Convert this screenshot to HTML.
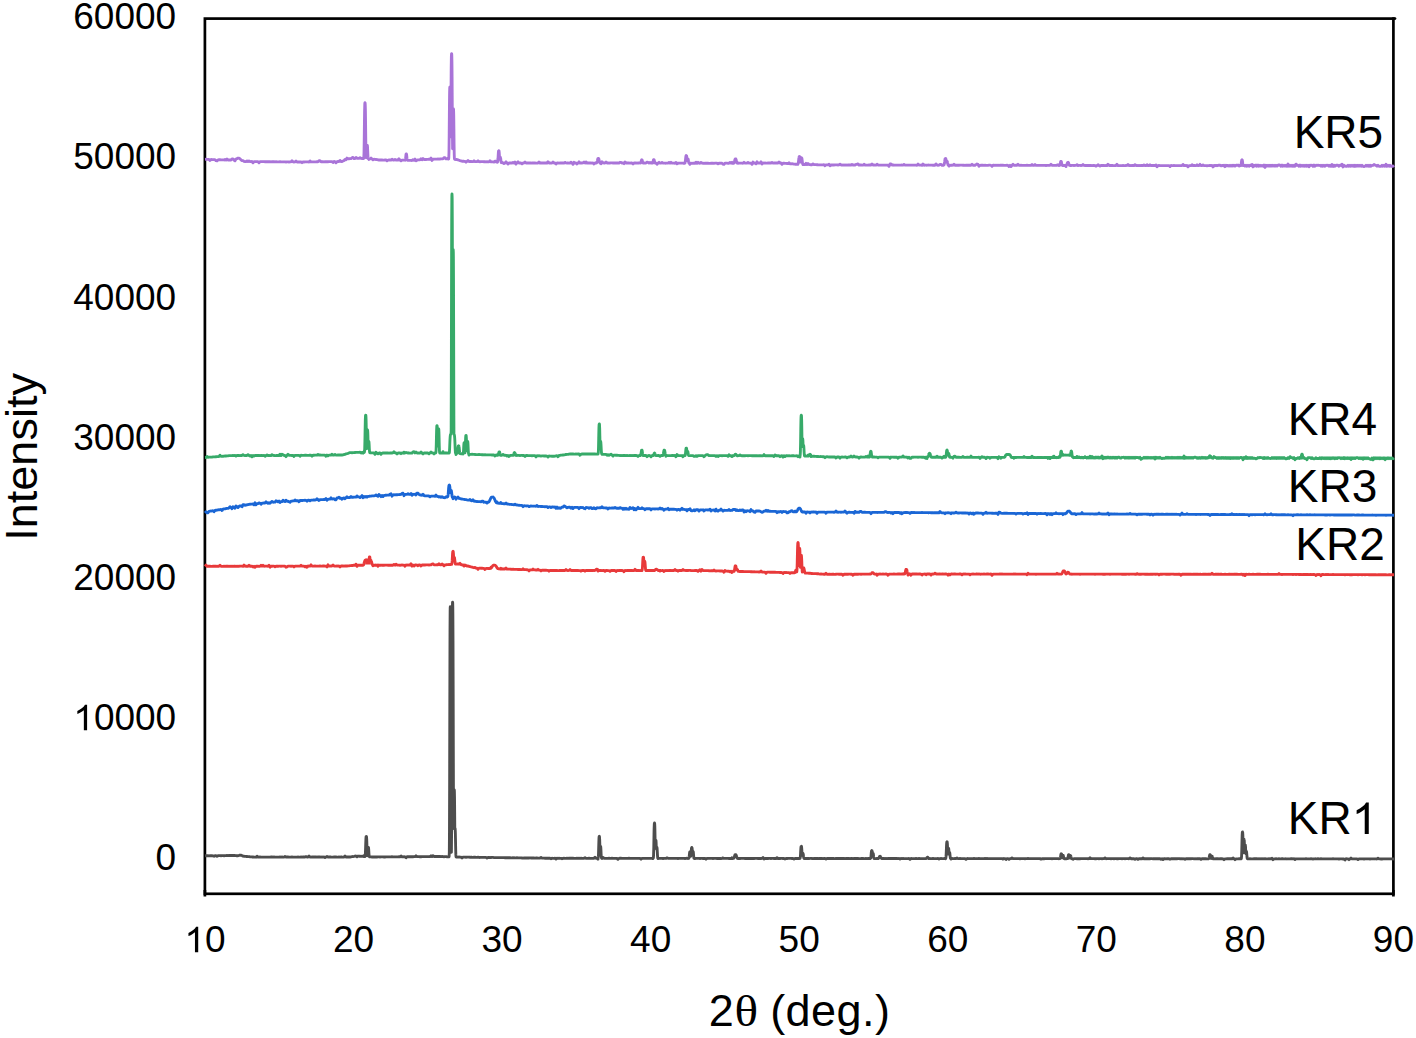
<!DOCTYPE html>
<html><head><meta charset="utf-8"><title>XRD</title>
<style>
html,body{margin:0;padding:0;background:#fff;width:1416px;height:1038px;overflow:hidden}
svg{display:block}
text{font-family:"Liberation Sans",sans-serif;fill:#000}
</style></head><body>
<svg width="1416" height="1038" viewBox="0 0 1416 1038">
<rect x="0" y="0" width="1416" height="1038" fill="#fff"/>
<defs><path id="one" d="M763 0L583 0L583 1147Q518 1085 415 1024.5Q312 964 223 931L223 1105Q375 1176 486.5 1275Q598 1374 646 1466L763 1466Z"/></defs>

<text x="176.2" y="29.0" font-size="37" text-anchor="end">60000</text>
<text x="176.2" y="169.2" font-size="37" text-anchor="end">50000</text>
<text x="176.2" y="309.5" font-size="37" text-anchor="end">40000</text>
<text x="176.2" y="449.7" font-size="37" text-anchor="end">30000</text>
<text x="176.2" y="589.9" font-size="37" text-anchor="end">20000</text>
<text x="176.2" y="730.1" font-size="37" text-anchor="end">0000</text>
<use href="#one" transform="translate(73.31,730.15) scale(0.01807,-0.01736)"/>
<text x="176.2" y="870.4" font-size="37" text-anchor="end">0</text>
<use href="#one" transform="translate(184.42,952.20) scale(0.01807,-0.01736)"/>
<text x="205.00" y="952.2" font-size="37">0</text>
<text x="353.6" y="952.2" font-size="37" text-anchor="middle">20</text>
<text x="502.1" y="952.2" font-size="37" text-anchor="middle">30</text>
<text x="650.7" y="952.2" font-size="37" text-anchor="middle">40</text>
<text x="799.2" y="952.2" font-size="37" text-anchor="middle">50</text>
<text x="947.8" y="952.2" font-size="37" text-anchor="middle">60</text>
<text x="1096.3" y="952.2" font-size="37" text-anchor="middle">70</text>
<text x="1244.9" y="952.2" font-size="37" text-anchor="middle">80</text>
<text x="1393.4" y="952.2" font-size="37" text-anchor="middle">90</text>
<text transform="translate(36.6,536.6) rotate(-90)" x="-4.1" y="0" font-size="45">Intensity</text>
<text x="708.7" y="1025.6" font-size="45">2</text>
<text x="0" y="1025.6" font-size="44" style="font-family:'Liberation Serif',serif" transform="translate(734.6,0) scale(1.12,1)">&#952;</text>
<text x="770.2" y="1025.6" font-size="45" letter-spacing="0.45">(deg.)</text>
<rect x="204.9" y="18.6" width="1188.5" height="875.2" fill="none" stroke="#000" stroke-width="2.7"/>
<line x1="204.9" y1="890" x2="204.9" y2="896.5" stroke="#000" stroke-width="2.7"/>
<line x1="1393.4" y1="890" x2="1393.4" y2="896.5" stroke="#000" stroke-width="2.7"/>
<line x1="1393" y1="18.6" x2="1395" y2="18.6" stroke="#000" stroke-width="2.7" stroke-linecap="round"/>
<path d="M205.00 855.85 206.00 855.72 207.00 855.71 208.00 855.79 209.00 855.85 210.00 855.77 211.00 855.79 212.00 855.73 213.00 855.82 214.00 856.20 215.00 855.66 216.00 855.70 217.00 856.28 218.00 855.72 219.00 855.66 220.00 855.68 221.00 855.73 222.00 855.64 223.00 855.68 224.00 855.75 225.00 855.56 226.00 855.66 227.00 855.50 228.00 855.61 229.00 855.47 230.00 855.50 231.00 855.53 232.00 855.52 233.00 855.49 234.00 855.53 234.50 855.48 234.75 855.46 235.00 855.51 235.25 855.46 235.50 855.56 235.75 855.57 236.00 855.54 236.25 855.58 236.50 855.71 236.75 855.64 237.00 855.67 237.25 855.74 237.50 855.66 237.75 855.71 238.00 855.76 238.25 855.64 238.50 855.56 238.75 855.38 239.00 855.36 239.25 855.29 239.50 855.24 239.75 855.24 240.00 855.14 240.25 855.23 240.50 855.19 240.75 855.23 241.00 855.17 241.25 855.26 241.50 855.40 241.75 855.46 242.00 855.63 242.25 855.77 242.50 855.90 242.75 856.04 243.00 856.13 243.25 856.17 243.50 856.19 243.75 856.31 244.00 856.25 244.25 856.28 244.50 856.31 244.75 856.34 245.00 856.36 245.25 856.43 245.50 856.41 245.75 856.41 246.00 856.41 246.25 856.38 246.50 856.56 247.00 856.50 248.00 856.56 249.00 856.64 250.00 856.75 251.00 856.83 252.00 856.96 253.00 856.99 254.00 857.18 255.00 857.07 256.00 857.20 257.00 856.16 258.00 857.10 259.00 857.19 260.00 856.99 261.00 857.06 262.00 857.12 263.00 857.06 264.00 857.10 265.00 857.07 266.00 857.14 267.00 857.09 268.00 857.08 269.00 857.17 270.00 857.08 271.00 857.04 272.00 857.00 273.00 857.14 274.00 857.03 275.00 857.09 276.00 857.16 277.00 857.11 278.00 857.06 279.00 857.10 280.00 857.03 281.00 857.12 282.00 857.02 283.00 857.11 284.00 857.12 285.00 856.55 286.00 857.09 287.00 857.03 288.00 857.02 289.00 857.11 290.00 857.05 291.00 857.17 292.00 857.02 293.00 857.07 294.00 857.13 295.00 857.06 296.00 857.07 297.00 857.05 298.00 857.03 299.00 857.06 300.00 857.05 301.00 857.03 302.00 857.16 303.00 857.03 304.00 857.03 305.00 857.05 306.00 856.56 307.00 857.00 308.00 857.01 309.00 856.05 310.00 857.07 311.00 857.06 312.00 856.97 313.00 857.02 314.00 857.00 315.00 857.03 316.00 857.01 317.00 857.17 318.00 856.96 319.00 856.94 320.00 857.01 321.00 857.07 322.00 857.01 323.00 857.07 324.00 857.00 325.00 857.64 326.00 857.00 327.00 856.50 328.00 857.04 329.00 856.97 330.00 856.93 331.00 857.02 332.00 857.06 333.00 857.09 334.00 857.01 335.00 857.04 336.00 856.99 337.00 857.12 338.00 857.06 339.00 857.02 340.00 857.09 341.00 856.96 342.00 857.03 343.00 857.06 344.00 856.99 345.00 855.99 346.00 856.97 347.00 857.04 348.00 856.96 349.00 857.00 350.00 857.01 351.00 856.82 352.00 856.66 353.00 856.53 354.00 856.36 355.00 856.11 356.00 856.04 357.00 856.84 358.00 856.05 359.00 856.22 360.00 856.19 361.00 856.31 362.00 856.27 363.00 856.40 363.90 856.48 364.00 855.73 364.10 856.49 364.30 856.55 364.50 856.50 364.70 856.49 364.90 856.58 365.00 856.50 365.10 856.11 365.30 854.59 365.50 850.41 365.70 844.27 365.90 839.06 366.00 837.48 366.10 836.71 366.30 836.44 366.47 836.58 366.50 836.67 366.63 838.05 366.70 839.14 366.80 841.35 366.90 844.24 366.97 846.58 367.00 847.51 367.10 850.42 367.13 851.36 367.30 854.77 367.47 855.71 367.50 855.47 367.63 853.88 367.70 852.82 367.80 850.98 367.90 849.42 367.97 848.56 368.00 848.22 368.10 847.58 368.13 847.54 368.30 847.32 368.47 847.41 368.50 847.51 368.63 848.59 368.70 849.43 368.80 851.08 368.97 854.03 369.00 854.47 369.13 855.87 369.30 856.52 369.47 856.79 369.63 856.83 369.80 856.86 369.97 856.87 370.00 856.86 370.13 856.93 371.00 856.87 372.00 857.00 373.00 857.03 374.00 856.99 375.00 857.01 376.00 856.92 377.00 856.99 378.00 856.91 379.00 856.94 380.00 856.97 381.00 856.93 382.00 856.93 383.00 856.84 384.00 856.97 385.00 856.97 386.00 856.85 387.00 856.84 388.00 856.83 389.00 856.83 390.00 856.82 391.00 856.91 392.00 856.78 393.00 856.82 394.00 856.87 395.00 856.80 396.00 856.82 397.00 856.80 398.00 856.81 399.00 856.76 400.00 856.82 401.00 856.02 402.00 856.72 403.00 856.82 404.00 856.79 405.00 856.86 406.00 857.70 407.00 856.66 408.00 856.73 409.00 856.71 410.00 856.63 411.00 856.72 412.00 856.77 413.00 856.73 414.00 856.66 415.00 856.66 416.00 855.69 417.00 856.58 418.00 856.67 419.00 856.57 420.00 856.72 421.00 856.76 422.00 856.62 423.00 856.56 424.00 856.64 425.00 856.63 426.00 856.60 427.00 856.56 428.00 856.58 429.00 856.60 430.00 856.60 431.00 855.75 432.00 856.58 433.00 855.68 434.00 856.51 435.00 856.51 436.00 856.52 437.00 856.50 438.00 856.49 439.00 856.53 440.00 856.44 441.00 856.55 442.00 856.53 443.00 856.65 444.00 856.71 445.00 856.68 446.00 856.64 447.00 856.77 448.00 856.81 448.30 856.70 448.47 856.80 448.63 856.78 448.80 856.76 448.97 856.78 449.00 856.76 449.13 856.37 449.30 852.25 449.47 831.40 449.63 781.74 449.80 705.05 449.97 640.13 450.00 632.15 450.13 611.53 450.20 607.58 450.30 606.66 450.40 607.58 450.47 611.42 450.60 632.20 450.63 640.09 450.80 705.09 450.97 781.67 451.00 793.32 451.13 831.44 451.20 843.27 451.30 852.36 451.40 852.15 451.47 847.91 451.60 831.75 451.63 826.07 451.80 778.98 451.97 714.08 452.00 702.37 452.13 656.58 452.20 637.18 452.37 609.18 452.40 606.78 452.53 602.29 452.60 602.12 452.70 602.72 452.80 606.75 452.87 613.42 453.00 637.18 453.03 645.01 453.17 690.93 453.20 702.23 453.33 753.43 453.37 768.34 453.40 778.98 453.50 809.79 453.53 817.37 453.60 828.58 453.67 819.83 453.70 816.11 453.80 804.73 453.83 801.91 453.87 798.64 454.00 791.69 454.03 790.90 454.17 789.60 454.20 789.62 454.33 790.29 454.37 790.86 454.40 791.83 454.50 796.45 454.53 798.56 454.60 804.81 454.67 812.48 454.70 816.04 454.80 828.55 454.83 828.81 454.87 828.52 455.00 828.29 455.03 828.20 455.17 828.82 455.20 829.21 455.33 832.13 455.37 833.57 455.50 839.62 455.53 841.16 455.67 848.38 455.70 849.70 455.83 854.06 455.87 854.88 456.00 856.55 456.03 856.70 456.17 856.92 456.33 856.95 456.50 857.05 456.67 857.05 456.83 856.95 457.00 857.04 458.00 857.10 459.00 857.04 460.00 857.11 461.00 857.14 462.00 858.09 463.00 857.09 464.00 857.16 465.00 857.17 466.00 857.25 467.00 857.15 468.00 857.16 469.00 857.20 470.00 857.29 471.00 857.14 472.00 857.25 473.00 857.32 474.00 857.16 475.00 857.26 476.00 857.40 477.00 857.32 478.00 857.24 479.00 857.42 480.00 857.46 481.00 857.31 482.00 857.30 483.00 857.42 484.00 857.37 485.00 857.43 486.00 857.41 487.00 858.03 488.00 857.51 489.00 857.44 490.00 857.66 491.00 857.50 492.00 857.44 493.00 857.45 494.00 857.55 495.00 857.55 496.00 857.55 497.00 857.58 498.00 857.60 499.00 857.65 500.00 857.60 501.00 857.69 502.00 857.68 503.00 857.61 504.00 857.66 505.00 857.73 506.00 857.73 507.00 857.74 508.00 857.75 509.00 857.76 510.00 857.65 511.00 857.80 512.00 857.80 513.00 857.67 514.00 857.79 515.00 857.85 516.00 857.85 517.00 857.78 518.00 857.84 519.00 857.84 520.00 857.93 521.00 857.90 522.00 857.98 523.00 858.06 524.00 857.93 525.00 857.97 526.00 857.94 527.00 857.96 528.00 857.88 529.00 857.97 530.00 857.95 531.00 857.95 532.00 858.00 533.00 858.01 534.00 858.03 535.00 858.05 536.00 858.04 537.00 858.04 538.00 858.11 539.00 858.17 540.00 858.07 541.00 857.47 542.00 858.19 543.00 858.06 544.00 858.16 545.00 858.21 546.00 858.25 547.00 858.24 548.00 858.21 549.00 858.20 550.00 858.29 551.00 858.75 552.00 858.24 553.00 858.30 554.00 858.37 555.00 858.25 556.00 858.97 557.00 858.27 558.00 858.30 559.00 858.29 560.00 858.34 561.00 858.33 562.00 858.80 563.00 858.37 564.00 858.28 565.00 858.30 566.00 858.37 567.00 858.26 568.00 858.38 569.00 858.23 570.00 858.25 571.00 858.27 572.00 858.27 573.00 858.23 574.00 858.38 575.00 858.37 576.00 858.34 577.00 858.26 578.00 858.34 579.00 858.26 580.00 858.31 581.00 858.27 582.00 858.37 583.00 858.37 584.00 858.25 585.00 857.67 586.00 858.35 587.00 858.31 588.00 858.38 589.00 858.24 590.00 858.38 591.00 858.41 592.00 858.38 593.00 858.37 594.00 858.35 595.00 857.32 596.00 858.27 597.00 858.23 597.10 858.29 597.28 858.29 597.47 858.30 597.65 858.32 597.83 858.32 598.00 859.18 598.02 858.31 598.20 857.95 598.38 856.19 598.50 853.74 598.57 851.52 598.67 847.85 598.75 844.97 598.83 842.27 598.93 839.43 599.00 837.91 599.12 836.64 599.17 836.51 599.30 836.35 599.33 836.32 599.48 836.70 599.50 836.77 599.67 839.39 599.83 844.25 599.85 845.00 600.00 850.54 600.03 850.36 600.17 847.78 600.22 847.24 600.33 846.60 600.40 846.38 600.50 846.33 600.58 846.34 600.67 846.48 600.77 847.22 600.83 847.83 600.95 849.91 601.00 851.02 601.13 853.94 601.17 854.76 601.32 857.04 601.33 857.13 601.50 858.13 601.67 858.27 601.83 858.39 602.00 857.63 602.17 858.23 602.33 858.29 603.00 857.40 604.00 858.32 605.00 858.32 606.00 858.37 607.00 858.37 608.00 858.33 609.00 858.26 610.00 858.38 611.00 858.32 612.00 858.27 613.00 858.34 614.00 858.43 615.00 858.30 616.00 858.39 617.00 858.38 618.00 859.36 619.00 858.34 620.00 858.23 621.00 858.27 622.00 858.30 623.00 858.34 624.00 858.37 625.00 858.39 626.00 858.37 627.00 858.31 628.00 858.40 629.00 858.28 630.00 858.34 631.00 858.38 632.00 858.35 633.00 858.41 634.00 858.36 635.00 858.39 636.00 858.38 637.00 858.41 638.00 858.31 639.00 858.34 640.00 858.44 641.00 859.26 642.00 858.40 643.00 858.41 644.00 858.41 645.00 858.33 646.00 858.39 647.00 858.31 648.00 858.44 649.00 858.33 650.00 858.42 651.00 858.38 652.00 858.42 652.30 858.31 652.48 858.33 652.67 858.46 652.85 858.40 653.00 858.44 653.03 858.35 653.22 858.28 653.40 857.70 653.58 855.05 653.77 847.49 653.80 845.70 653.95 837.05 653.97 835.82 654.00 834.15 654.13 828.08 654.30 823.89 654.32 823.70 654.47 823.17 654.50 823.00 654.63 823.33 654.68 823.68 654.80 825.87 654.87 828.12 654.97 832.60 655.00 834.17 655.05 837.07 655.13 841.75 655.23 847.40 655.30 847.24 655.42 843.73 655.47 842.57 655.60 840.73 655.63 840.39 655.78 840.18 655.80 840.20 655.97 840.50 656.00 840.69 656.13 842.57 656.15 843.04 656.30 847.31 656.33 848.17 656.47 848.88 656.52 848.20 656.63 847.48 656.70 847.40 656.80 847.27 656.97 847.46 657.00 847.68 657.13 848.70 657.30 851.61 657.47 855.07 657.63 857.17 657.80 858.19 657.97 858.29 658.00 858.47 658.13 858.38 658.30 858.31 658.47 858.35 658.63 858.31 659.00 858.30 660.00 858.38 661.00 858.37 662.00 858.40 663.00 858.48 664.00 858.35 665.00 858.43 666.00 858.42 667.00 857.87 668.00 858.33 669.00 858.44 670.00 858.37 671.00 858.41 672.00 858.40 673.00 858.42 674.00 858.41 675.00 858.40 676.00 858.43 677.00 858.36 678.00 858.49 679.00 858.43 680.00 858.41 681.00 858.43 682.00 858.43 683.00 858.44 684.00 858.40 685.00 858.46 686.00 858.41 687.00 858.28 687.60 858.46 687.80 858.44 688.00 858.44 688.20 858.40 688.40 858.41 688.60 858.46 688.80 858.26 689.00 857.89 689.20 856.39 689.40 854.39 689.60 852.71 689.80 851.93 690.00 851.79 690.20 851.91 690.40 852.77 690.60 854.38 690.80 856.35 691.00 855.06 691.17 852.46 691.20 851.86 691.33 849.91 691.40 849.02 691.50 848.15 691.60 847.79 691.67 847.67 691.80 847.64 691.83 847.48 692.00 847.74 692.17 848.78 692.20 849.00 692.33 850.70 692.40 851.89 692.50 853.45 692.60 852.93 692.67 852.19 692.80 851.51 692.83 851.43 693.00 851.31 693.17 851.49 693.20 851.50 693.33 852.18 693.40 852.87 693.50 854.06 693.60 855.41 693.67 856.19 693.80 857.45 693.83 857.74 694.00 858.28 694.17 858.41 694.20 858.38 694.33 858.38 694.50 858.37 694.67 858.38 694.83 858.44 695.00 858.48 696.00 858.37 697.00 858.43 698.00 858.31 699.00 858.43 700.00 858.47 701.00 858.38 702.00 858.41 703.00 858.46 704.00 858.49 705.00 858.40 706.00 859.28 707.00 858.40 708.00 858.40 709.00 858.45 710.00 858.37 711.00 858.38 712.00 858.39 713.00 858.46 714.00 858.42 715.00 858.31 716.00 858.42 717.00 858.46 718.00 858.41 719.00 858.47 720.00 858.45 721.00 858.54 722.00 858.36 723.00 857.91 724.00 858.43 725.00 858.42 726.00 858.43 727.00 858.42 728.00 858.41 729.00 858.49 730.00 858.45 731.00 858.53 731.50 858.38 731.75 858.44 732.00 857.84 732.25 858.43 732.50 858.46 732.75 858.46 733.00 858.33 733.25 858.42 733.50 858.37 733.75 858.12 734.00 857.69 734.25 857.01 734.50 856.13 734.75 855.42 735.00 854.80 735.25 854.63 735.50 854.65 735.75 854.63 736.00 854.87 736.25 855.38 736.50 856.06 736.75 856.95 737.00 857.76 737.25 858.25 737.50 858.28 737.75 858.50 738.00 858.47 738.25 858.53 738.50 858.38 738.75 858.39 739.00 858.44 739.25 858.46 739.50 858.44 740.00 858.49 741.00 858.38 742.00 858.42 743.00 858.42 744.00 858.44 745.00 858.51 746.00 858.42 747.00 858.49 748.00 858.52 749.00 858.39 750.00 858.46 751.00 858.50 752.00 858.46 753.00 858.49 754.00 858.51 755.00 858.37 756.00 858.42 757.00 858.41 758.00 858.48 759.00 858.45 760.00 858.46 761.00 858.48 762.00 858.41 763.00 857.44 764.00 858.98 765.00 858.48 766.00 858.47 767.00 858.48 768.00 858.50 769.00 858.42 770.00 858.36 771.00 858.50 772.00 858.41 773.00 858.45 774.00 858.48 775.00 858.54 776.00 858.48 777.00 857.78 778.00 858.50 779.00 858.52 780.00 858.50 781.00 858.38 782.00 858.42 783.00 858.51 784.00 858.47 785.00 858.97 786.00 858.48 787.00 858.48 788.00 858.31 789.00 858.40 790.00 858.42 791.00 858.44 792.00 858.54 793.00 858.50 794.00 859.05 795.00 858.49 796.00 858.44 797.00 858.51 798.00 858.46 798.90 858.37 799.00 858.52 799.10 858.44 799.30 858.42 799.50 858.46 799.70 858.44 799.90 858.39 800.00 858.39 800.10 858.16 800.30 857.30 800.40 856.22 800.50 854.72 800.60 852.91 800.70 851.09 800.80 849.38 800.90 847.91 801.00 846.98 801.10 846.50 801.20 846.31 801.30 846.29 801.40 846.26 801.50 846.55 801.60 847.11 801.70 848.02 801.80 849.27 801.90 851.13 802.00 853.00 802.10 854.75 802.20 855.35 802.30 854.70 802.40 853.86 802.50 853.60 802.60 853.38 802.70 853.47 802.80 853.36 802.90 853.28 803.00 853.35 803.10 853.64 803.20 853.92 803.30 854.52 803.40 855.33 803.50 856.17 803.60 856.93 803.70 857.55 803.80 857.93 804.00 858.35 804.20 858.48 804.40 858.46 804.60 858.44 804.80 858.51 805.00 858.49 805.20 858.47 806.00 858.43 807.00 858.50 808.00 858.51 809.00 858.54 810.00 858.40 811.00 858.45 812.00 858.50 813.00 858.58 814.00 858.50 815.00 858.50 816.00 858.43 817.00 858.50 818.00 858.39 819.00 858.54 820.00 858.51 821.00 858.51 822.00 858.51 823.00 858.58 824.00 858.51 825.00 858.48 826.00 859.06 827.00 858.49 828.00 858.50 829.00 858.49 830.00 858.45 831.00 858.50 832.00 858.47 833.00 858.44 834.00 858.52 835.00 858.56 836.00 858.39 837.00 858.50 838.00 858.46 839.00 858.45 840.00 858.51 841.00 858.51 842.00 858.54 843.00 858.53 844.00 858.40 845.00 858.55 846.00 858.49 847.00 858.48 848.00 858.47 849.00 858.50 850.00 858.55 851.00 858.50 852.00 858.49 853.00 858.58 854.00 858.50 855.00 858.52 856.00 858.53 857.00 858.51 858.00 858.48 859.00 858.56 860.00 858.55 861.00 858.50 862.00 858.37 863.00 858.46 864.00 858.55 865.00 858.64 866.00 858.50 867.00 858.55 868.00 858.52 869.00 858.50 869.40 858.51 869.60 858.55 869.80 858.45 870.00 858.51 870.20 858.55 870.40 858.40 870.60 858.39 870.80 857.72 871.00 856.09 871.17 854.12 871.20 853.69 871.33 852.19 871.40 851.67 871.50 851.08 871.60 850.74 871.67 850.65 871.80 850.57 871.83 850.60 872.00 850.72 872.17 851.45 872.20 851.53 872.33 852.90 872.40 853.70 872.50 854.94 872.60 854.43 872.67 854.00 872.80 853.48 872.83 853.37 873.00 853.25 873.17 853.49 873.20 853.50 873.33 853.92 873.40 854.52 873.50 855.33 873.60 856.26 873.67 856.95 873.80 857.85 873.83 857.93 874.00 858.42 874.17 858.52 874.20 858.60 874.33 858.55 874.50 858.53 874.67 858.55 874.83 858.53 875.00 858.48 876.00 858.55 876.80 858.46 877.00 858.51 877.05 858.48 877.30 858.52 877.55 858.45 877.80 858.54 878.00 858.45 878.05 858.48 878.30 858.60 878.55 858.49 878.80 858.17 879.00 857.72 879.05 857.54 879.30 857.00 879.55 856.48 879.80 856.33 880.00 856.26 880.05 856.26 880.30 856.30 880.55 856.76 880.80 857.18 881.00 857.72 881.05 857.79 881.30 858.26 881.55 858.48 881.80 858.45 882.00 858.49 882.05 858.50 882.30 858.56 882.55 858.55 882.80 858.55 883.00 858.50 883.05 858.49 884.00 858.53 885.00 858.63 886.00 858.54 887.00 858.59 888.00 858.51 889.00 858.46 890.00 858.52 891.00 858.53 892.00 858.54 893.00 858.52 894.00 858.48 895.00 858.49 896.00 858.50 897.00 858.48 898.00 858.57 899.00 858.53 900.00 859.09 901.00 858.52 902.00 858.56 903.00 858.52 904.00 858.59 905.00 858.58 906.00 858.55 907.00 858.58 908.00 858.58 909.00 858.52 910.00 859.38 911.00 858.47 912.00 858.59 913.00 858.63 914.00 858.57 915.00 858.59 916.00 858.52 917.00 858.65 918.00 858.55 919.00 858.49 920.00 858.64 921.00 858.56 922.00 858.64 923.00 858.62 924.00 858.61 925.00 858.61 925.10 858.57 925.30 858.67 925.50 858.56 925.70 858.56 925.90 858.57 926.00 858.58 926.10 858.54 926.30 858.60 926.50 858.39 926.70 858.21 926.90 857.82 927.00 857.57 927.10 857.53 927.30 857.27 927.50 857.33 927.70 857.24 927.90 857.39 928.00 857.60 928.10 857.87 928.30 858.17 928.50 858.51 928.70 858.61 928.90 858.62 929.00 858.59 929.10 858.45 929.30 858.51 929.50 858.48 929.70 858.57 929.90 858.53 930.00 858.58 931.00 858.57 932.00 858.58 933.00 858.44 934.00 858.57 935.00 858.58 936.00 858.64 937.00 858.61 938.00 858.54 939.00 859.10 940.00 858.55 941.00 858.51 942.00 858.56 943.00 858.61 944.00 858.64 944.60 858.46 944.80 858.49 945.00 858.52 945.20 858.72 945.40 858.58 945.60 858.56 945.80 858.28 946.00 856.89 946.20 853.45 946.40 848.44 946.50 846.10 946.60 844.06 946.67 843.17 946.80 842.09 946.83 842.01 947.00 841.72 947.17 841.95 947.20 842.06 947.33 843.16 947.40 844.12 947.50 846.00 947.60 848.34 947.67 850.16 947.80 853.47 947.83 854.13 948.00 852.41 948.17 849.65 948.20 849.39 948.33 848.53 948.40 848.21 948.50 848.26 948.60 848.35 948.67 848.51 948.80 849.38 948.83 849.65 949.00 852.28 949.17 853.18 949.20 852.95 949.33 852.43 949.40 852.32 949.50 852.37 949.67 852.51 949.83 853.14 950.00 854.78 950.17 856.60 950.33 857.92 950.50 858.46 950.67 858.60 950.83 858.61 951.00 859.09 951.17 858.56 951.33 858.64 952.00 858.53 953.00 858.60 954.00 858.57 955.00 858.54 956.00 858.61 957.00 858.00 958.00 858.60 959.00 858.58 960.00 858.53 961.00 858.58 962.00 858.58 963.00 858.59 964.00 858.68 965.00 858.60 966.00 859.40 967.00 858.62 968.00 858.54 969.00 858.67 970.00 858.58 971.00 858.57 972.00 858.65 973.00 858.63 974.00 858.54 975.00 858.64 976.00 858.58 977.00 858.55 978.00 858.65 979.00 858.53 980.00 858.55 981.00 858.59 982.00 858.60 983.00 858.55 984.00 858.55 985.00 858.50 986.00 858.60 987.00 858.54 988.00 858.56 989.00 858.65 990.00 858.68 991.00 858.56 992.00 858.62 993.00 858.61 994.00 858.63 995.00 858.60 996.00 858.59 997.00 858.57 998.00 858.67 999.00 858.64 1000.00 858.57 1001.00 858.56 1002.00 858.60 1003.00 859.11 1004.00 858.55 1005.00 858.61 1006.00 859.59 1007.00 858.57 1008.00 858.70 1009.00 859.39 1010.00 858.63 1011.00 858.68 1012.00 857.85 1013.00 858.65 1014.00 858.60 1015.00 858.68 1016.00 858.62 1017.00 858.62 1018.00 858.58 1019.00 858.57 1020.00 858.73 1021.00 858.63 1022.00 858.60 1023.00 858.58 1024.00 858.63 1025.00 858.72 1026.00 858.63 1027.00 858.61 1028.00 858.54 1029.00 858.60 1030.00 858.69 1031.00 858.64 1032.00 858.65 1033.00 858.66 1034.00 858.62 1035.00 858.64 1036.00 858.65 1037.00 858.67 1038.00 858.69 1039.00 858.58 1040.00 858.63 1041.00 859.16 1042.00 858.67 1043.00 858.71 1044.00 858.73 1045.00 858.57 1046.00 858.67 1047.00 858.60 1048.00 858.63 1049.00 858.58 1050.00 858.66 1051.00 858.67 1052.00 858.72 1053.00 858.68 1054.00 858.68 1055.00 858.65 1056.00 858.68 1057.00 858.68 1058.00 858.58 1058.90 858.59 1059.00 858.63 1059.10 858.75 1059.30 858.58 1059.50 858.67 1059.70 858.64 1059.90 858.67 1060.00 858.59 1060.10 858.54 1060.30 858.20 1060.50 857.16 1060.70 855.77 1060.90 854.44 1061.00 854.11 1061.10 853.89 1061.17 853.77 1061.30 853.84 1061.33 853.83 1061.50 853.87 1061.67 854.31 1061.70 854.49 1061.83 855.21 1061.90 855.70 1062.00 856.44 1062.10 857.26 1062.17 857.59 1062.30 857.76 1062.33 857.61 1062.50 856.72 1062.67 855.75 1062.70 855.63 1062.83 855.34 1062.90 855.25 1063.00 855.40 1063.10 855.19 1063.17 855.38 1063.30 855.58 1063.33 855.74 1063.50 856.63 1063.67 857.59 1063.70 857.80 1063.83 858.25 1064.00 858.57 1064.17 858.66 1064.33 858.74 1064.50 858.71 1064.67 858.65 1064.83 858.55 1065.00 858.76 1066.00 858.64 1066.40 858.62 1066.60 858.71 1066.80 858.65 1067.00 858.69 1067.20 858.59 1067.40 858.66 1067.60 858.63 1067.80 858.32 1068.00 857.47 1068.20 856.25 1068.40 855.14 1068.50 854.93 1068.60 854.72 1068.67 854.61 1068.80 854.59 1068.83 854.67 1069.00 854.74 1069.17 854.98 1069.20 855.10 1069.33 855.86 1069.40 856.13 1069.50 856.78 1069.60 857.46 1069.67 857.74 1069.80 858.03 1069.83 857.82 1070.00 856.93 1070.17 856.27 1070.20 856.15 1070.33 855.82 1070.40 855.92 1070.50 855.78 1070.60 855.82 1070.67 855.80 1070.80 856.03 1070.83 856.23 1071.00 856.91 1071.17 857.74 1071.20 857.97 1071.33 858.38 1071.50 858.58 1071.67 858.68 1071.83 858.74 1072.00 858.65 1072.17 858.69 1072.33 858.65 1073.00 859.32 1074.00 858.65 1075.00 858.69 1076.00 858.64 1077.00 858.76 1078.00 858.67 1079.00 858.75 1080.00 858.72 1081.00 858.65 1082.00 858.69 1083.00 858.63 1084.00 858.60 1085.00 858.70 1086.00 858.64 1087.00 858.70 1088.00 858.71 1089.00 858.68 1090.00 857.68 1091.00 858.68 1092.00 858.70 1093.00 858.67 1094.00 858.62 1095.00 858.75 1096.00 858.73 1097.00 858.67 1098.00 858.65 1099.00 858.75 1100.00 858.69 1101.00 858.65 1102.00 858.72 1103.00 858.60 1104.00 858.67 1105.00 857.88 1106.00 858.73 1107.00 858.70 1108.00 858.63 1109.00 858.68 1110.00 858.68 1111.00 858.73 1112.00 858.65 1113.00 858.63 1114.00 858.75 1115.00 858.68 1116.00 858.67 1117.00 858.74 1118.00 858.71 1119.00 858.68 1120.00 858.67 1121.00 858.69 1122.00 858.74 1123.00 858.65 1124.00 858.68 1125.00 858.72 1126.00 858.67 1127.00 858.65 1128.00 858.60 1129.00 858.76 1130.00 857.91 1131.00 858.80 1132.00 858.70 1133.00 858.76 1134.00 858.71 1135.00 859.33 1136.00 858.69 1137.00 858.70 1138.00 859.45 1139.00 858.72 1140.00 858.74 1141.00 858.65 1142.00 858.71 1143.00 858.02 1144.00 858.75 1145.00 858.68 1146.00 858.76 1147.00 858.69 1148.00 858.78 1149.00 858.70 1150.00 858.72 1151.00 858.68 1152.00 858.66 1153.00 858.79 1154.00 858.72 1155.00 858.71 1156.00 858.70 1157.00 858.73 1158.00 858.75 1159.00 858.72 1160.00 858.69 1161.00 859.31 1162.00 858.78 1163.00 859.50 1164.00 858.75 1165.00 858.78 1166.00 858.80 1167.00 858.71 1168.00 858.67 1169.00 858.75 1170.00 859.22 1171.00 858.79 1172.00 858.75 1173.00 858.73 1174.00 858.72 1175.00 858.76 1176.00 858.65 1177.00 858.72 1178.00 858.67 1179.00 858.69 1180.00 858.74 1181.00 858.88 1182.00 858.70 1183.00 858.81 1184.00 858.79 1185.00 859.35 1186.00 858.70 1187.00 858.71 1188.00 858.70 1189.00 858.72 1190.00 858.72 1191.00 858.73 1192.00 858.64 1193.00 858.67 1194.00 858.81 1195.00 858.74 1196.00 858.86 1197.00 858.74 1198.00 858.75 1199.00 858.77 1200.00 858.73 1201.00 859.43 1202.00 858.70 1203.00 858.71 1204.00 858.72 1205.00 858.79 1206.00 858.78 1207.00 858.82 1207.60 858.84 1207.80 858.81 1208.00 858.70 1208.20 858.74 1208.40 858.83 1208.60 858.78 1208.80 858.67 1209.00 858.31 1209.20 857.53 1209.40 856.27 1209.60 855.21 1209.80 854.64 1210.00 854.62 1210.17 854.70 1210.20 854.77 1210.33 855.02 1210.40 855.15 1210.50 855.74 1210.60 856.23 1210.67 856.67 1210.80 857.48 1210.83 857.75 1211.00 858.36 1211.17 858.45 1211.20 858.47 1211.33 858.00 1211.40 857.75 1211.50 857.34 1211.60 856.76 1211.67 856.55 1211.80 856.46 1211.83 856.34 1212.00 856.35 1212.17 856.38 1212.20 856.32 1212.33 856.66 1212.40 856.92 1212.50 857.24 1212.67 858.03 1212.83 858.47 1213.00 858.67 1213.17 858.81 1213.33 858.90 1213.50 858.70 1213.67 858.74 1213.83 858.72 1214.00 858.79 1215.00 858.83 1216.00 858.74 1217.00 858.75 1218.00 858.78 1219.00 858.83 1220.00 858.76 1221.00 858.78 1222.00 858.76 1223.00 858.82 1224.00 859.68 1225.00 858.83 1226.00 858.82 1227.00 858.79 1228.00 858.78 1229.00 858.73 1230.00 858.77 1231.00 858.67 1232.00 858.83 1233.00 857.95 1234.00 858.82 1235.00 859.74 1236.00 858.88 1237.00 858.81 1238.00 858.82 1239.00 858.77 1240.00 858.79 1240.30 858.78 1240.48 858.80 1240.67 858.82 1240.85 858.78 1241.00 858.75 1241.03 858.85 1241.22 858.76 1241.40 858.23 1241.58 856.22 1241.77 850.39 1241.95 842.50 1242.00 840.25 1242.13 835.58 1242.17 834.56 1242.32 832.31 1242.33 832.24 1242.50 831.87 1242.67 832.29 1242.68 832.30 1242.83 834.56 1242.87 835.65 1243.00 840.28 1243.05 842.36 1243.17 847.94 1243.20 849.19 1243.23 850.33 1243.33 852.93 1243.37 851.51 1243.42 849.80 1243.50 847.08 1243.53 845.95 1243.60 843.75 1243.67 841.93 1243.70 841.24 1243.78 840.11 1243.83 839.64 1243.87 839.52 1243.97 839.30 1244.00 839.25 1244.03 839.30 1244.15 839.56 1244.17 839.74 1244.20 839.94 1244.30 841.30 1244.33 841.94 1244.37 842.86 1244.47 845.85 1244.50 847.07 1244.52 847.59 1244.53 848.01 1244.63 851.67 1244.67 851.30 1244.70 850.56 1244.80 848.27 1244.83 847.65 1244.87 846.94 1244.97 845.81 1245.00 845.61 1245.03 845.35 1245.13 845.04 1245.17 845.06 1245.20 845.12 1245.30 845.02 1245.33 845.24 1245.37 845.40 1245.47 846.09 1245.50 846.51 1245.53 846.93 1245.63 848.81 1245.67 849.67 1245.70 850.51 1245.80 853.12 1245.83 853.76 1245.87 853.36 1245.97 852.29 1246.00 852.09 1246.03 851.89 1246.13 851.53 1246.20 851.32 1246.30 851.25 1246.37 851.32 1246.47 851.47 1246.53 851.72 1246.63 852.27 1246.70 853.06 1246.80 854.28 1246.87 855.19 1246.97 856.58 1247.00 856.99 1247.03 857.26 1247.13 858.02 1247.30 858.68 1247.47 858.76 1247.63 858.87 1247.80 858.78 1247.97 858.73 1248.00 858.86 1248.13 858.82 1249.00 858.87 1250.00 858.77 1251.00 858.80 1252.00 858.86 1253.00 858.86 1254.00 858.79 1255.00 858.78 1256.00 858.79 1257.00 858.79 1258.00 858.81 1259.00 858.77 1260.00 858.80 1261.00 858.78 1262.00 858.84 1263.00 858.78 1264.00 858.80 1265.00 858.68 1266.00 858.80 1267.00 858.82 1268.00 858.82 1269.00 858.77 1270.00 858.88 1271.00 858.76 1272.00 858.30 1273.00 859.65 1274.00 858.85 1275.00 858.84 1276.00 858.78 1277.00 858.91 1278.00 858.90 1279.00 858.79 1280.00 858.83 1281.00 858.92 1282.00 858.76 1283.00 858.79 1284.00 858.92 1285.00 858.81 1286.00 858.79 1287.00 858.95 1288.00 858.85 1289.00 858.84 1290.00 858.87 1291.00 858.76 1292.00 858.74 1293.00 858.82 1294.00 858.79 1295.00 859.46 1296.00 858.82 1297.00 858.85 1298.00 858.89 1299.00 858.88 1300.00 858.92 1301.00 858.80 1302.00 858.80 1303.00 858.87 1304.00 858.81 1305.00 858.83 1306.00 858.73 1307.00 858.84 1308.00 858.83 1309.00 858.87 1310.00 858.81 1311.00 858.78 1312.00 858.87 1313.00 858.99 1314.00 858.92 1315.00 858.79 1316.00 858.82 1317.00 858.94 1318.00 858.77 1319.00 858.87 1320.00 858.89 1321.00 858.76 1322.00 858.85 1323.00 858.88 1324.00 858.84 1325.00 858.86 1326.00 858.88 1327.00 858.87 1328.00 858.86 1329.00 858.82 1330.00 858.85 1331.00 858.88 1332.00 858.82 1333.00 858.79 1334.00 858.85 1335.00 858.84 1336.00 858.87 1337.00 858.84 1338.00 858.81 1339.00 859.00 1340.00 858.83 1341.00 858.92 1342.00 858.85 1343.00 858.97 1344.00 858.91 1345.00 859.89 1346.00 858.77 1347.00 858.87 1348.00 858.88 1349.00 859.71 1350.00 858.91 1351.00 858.04 1352.00 858.79 1353.00 858.86 1354.00 858.87 1355.00 858.89 1356.00 858.94 1357.00 858.84 1358.00 859.62 1359.00 858.87 1360.00 858.82 1361.00 858.89 1362.00 858.90 1363.00 858.86 1364.00 858.97 1365.00 858.81 1366.00 858.84 1367.00 858.86 1368.00 858.89 1369.00 858.92 1370.00 858.96 1371.00 858.92 1372.00 858.94 1373.00 858.91 1374.00 858.83 1375.00 858.95 1376.00 858.92 1377.00 858.96 1378.00 858.24 1379.00 858.91 1380.00 858.87 1381.00 858.96 1382.00 858.97 1383.00 858.83 1384.00 858.84 1385.00 858.87 1386.00 858.85 1387.00 858.87 1388.00 858.85 1389.00 858.91 1390.00 858.84 1391.00 858.85 1392.00 858.85 1393.00 858.94 1394.00 858.96" fill="none" stroke="#4D4D4D" stroke-width="2.85" stroke-linejoin="round" stroke-linecap="butt"/>
<path d="M205.00 566.32 206.00 565.11 207.00 566.29 208.00 566.24 209.00 566.25 210.00 566.24 211.00 566.31 212.00 566.34 213.00 566.26 214.00 566.29 215.00 566.28 216.00 566.20 217.00 566.35 218.00 566.27 219.00 566.28 220.00 565.31 221.00 566.31 222.00 566.36 223.00 566.33 224.00 566.21 225.00 566.38 226.00 566.24 227.00 566.24 228.00 566.20 229.00 566.30 230.00 566.22 231.00 566.32 232.00 566.17 233.00 566.31 234.00 566.20 235.00 566.20 236.00 566.30 237.00 566.22 238.00 566.34 239.00 566.21 240.00 566.17 241.00 566.19 242.00 566.20 243.00 566.28 244.00 565.04 245.00 566.19 246.00 566.21 247.00 566.19 248.00 566.22 249.00 565.24 250.00 566.31 251.00 566.24 252.00 566.17 253.00 567.05 254.00 566.30 255.00 567.31 256.00 566.25 257.00 566.21 258.00 566.22 259.00 566.33 260.00 566.22 261.00 565.34 262.00 566.21 263.00 565.26 264.00 566.21 265.00 566.18 266.00 566.07 267.00 566.18 268.00 566.24 269.00 565.25 270.00 567.17 271.00 566.24 272.00 566.26 273.00 566.15 274.00 566.16 275.00 566.79 276.00 566.21 277.00 566.19 278.00 566.29 279.00 566.08 280.00 566.14 281.00 566.21 282.00 566.13 283.00 566.10 284.00 566.15 285.00 566.13 286.00 567.24 287.00 566.85 288.00 566.07 289.00 566.12 290.00 566.15 291.00 566.22 292.00 566.06 293.00 566.14 294.00 567.01 295.00 566.19 296.00 566.16 297.00 566.17 298.00 566.07 299.00 566.10 300.00 566.11 301.00 565.28 302.00 566.15 303.00 566.10 304.00 566.11 305.00 566.89 306.00 566.15 307.00 567.21 308.00 566.04 309.00 566.12 310.00 566.10 311.00 564.88 312.00 566.09 313.00 566.15 314.00 566.08 315.00 566.02 316.00 566.07 317.00 566.06 318.00 566.12 319.00 566.10 320.00 565.95 321.00 566.06 322.00 566.11 323.00 566.00 324.00 565.95 325.00 566.09 326.00 566.07 327.00 566.93 328.00 564.81 329.00 566.07 330.00 566.07 331.00 566.01 332.00 565.98 333.00 565.05 334.00 566.08 335.00 566.06 336.00 566.07 337.00 565.99 338.00 566.11 339.00 566.02 340.00 566.92 341.00 566.04 342.00 565.99 343.00 565.94 344.00 566.05 345.00 565.88 346.00 566.03 347.00 565.96 348.00 565.88 349.00 565.80 350.00 565.70 351.00 565.62 352.00 565.51 353.00 565.47 353.60 565.30 353.85 565.40 354.00 565.28 354.10 565.31 354.35 565.25 354.60 565.27 354.85 565.29 355.00 565.21 355.10 565.17 355.35 565.20 355.60 565.26 355.85 565.22 356.00 564.26 356.10 565.20 356.35 565.13 356.60 565.21 356.85 565.19 357.00 566.33 357.10 565.20 357.35 565.14 357.60 565.24 357.85 565.22 358.00 565.22 358.10 565.20 358.35 565.21 358.60 565.16 358.85 565.25 359.00 565.23 359.10 565.17 359.35 565.09 359.60 565.17 359.85 565.18 360.00 565.27 360.10 565.13 360.35 565.26 360.60 565.15 360.85 565.24 361.00 565.17 361.10 565.17 361.35 565.20 361.60 565.24 361.85 565.22 362.00 565.16 362.10 565.25 362.35 565.23 362.60 565.17 362.85 565.30 363.00 565.12 363.10 565.10 363.35 565.09 363.60 564.79 363.85 564.03 364.00 563.61 364.10 563.11 364.35 562.13 364.60 561.42 364.85 560.66 365.00 560.56 365.10 560.32 365.35 560.20 365.60 559.97 365.85 559.89 366.00 559.87 366.10 559.97 366.35 560.02 366.60 559.93 366.85 559.88 367.00 559.95 367.10 559.91 367.35 559.96 367.60 559.84 367.77 559.91 367.85 559.99 367.93 559.88 368.00 559.88 368.10 559.92 368.27 559.92 368.35 559.87 368.43 559.92 368.60 559.90 368.77 559.97 368.85 559.90 368.93 559.88 369.00 559.82 369.10 559.94 369.27 557.95 369.35 557.27 369.43 556.83 369.60 556.91 369.77 556.93 369.85 557.28 369.93 557.87 370.00 558.66 370.10 559.97 370.27 559.92 370.35 560.01 370.43 560.02 370.60 560.16 370.77 560.19 370.85 560.26 370.93 560.47 371.00 560.46 371.10 560.67 371.27 561.11 371.35 561.27 371.43 561.46 371.60 561.96 371.85 562.99 372.00 563.59 372.10 563.99 372.35 564.61 372.60 565.07 372.85 565.16 373.00 565.88 373.10 565.23 373.35 565.21 373.60 565.27 373.85 565.12 374.00 565.23 374.10 565.19 374.35 565.18 374.60 565.18 374.85 565.15 375.00 565.22 375.10 565.22 375.35 565.14 375.60 565.21 375.85 565.05 376.00 565.18 376.10 565.13 376.35 565.21 376.60 565.23 376.85 565.14 377.00 565.14 377.10 565.28 377.35 565.23 377.60 565.19 377.85 565.19 378.00 566.25 378.10 565.33 378.35 565.16 378.60 565.19 378.85 565.23 379.00 565.18 379.10 565.31 379.35 565.13 379.60 565.24 379.85 565.26 380.00 565.25 380.10 565.21 380.35 565.24 380.60 565.09 380.85 565.18 381.00 565.17 381.10 565.12 381.35 565.17 381.60 565.25 381.85 565.17 382.00 565.20 382.10 565.19 382.35 565.23 383.00 565.21 384.00 565.27 385.00 565.18 386.00 565.16 387.00 565.20 388.00 565.21 389.00 565.18 390.00 565.24 391.00 565.16 392.00 565.23 393.00 565.24 394.00 564.47 395.00 565.17 396.00 564.14 397.00 565.06 398.00 565.14 399.00 565.10 400.00 565.25 401.00 565.09 402.00 565.02 403.00 565.07 404.00 565.09 405.00 566.16 406.00 565.04 407.00 565.11 408.00 565.02 409.00 565.07 410.00 564.96 411.00 563.79 412.00 566.13 413.00 565.01 414.00 565.98 415.00 564.95 416.00 564.97 417.00 565.06 418.00 565.70 419.00 565.00 420.00 564.91 421.00 565.97 422.00 564.87 423.00 564.99 424.00 564.99 425.00 564.99 426.00 564.92 427.00 564.91 428.00 564.91 429.00 564.98 430.00 564.89 431.00 564.77 432.00 564.06 433.00 563.82 434.00 564.87 435.00 564.93 436.00 564.89 437.00 564.78 438.00 564.89 439.00 563.83 440.00 564.82 441.00 564.79 442.00 564.05 443.00 564.72 444.00 565.83 445.00 564.86 446.00 564.79 447.00 564.68 448.00 564.61 449.00 564.54 450.00 564.40 450.60 564.52 450.80 564.40 451.00 564.44 451.20 564.36 451.40 564.40 451.60 564.39 451.80 564.07 452.00 563.12 452.20 560.41 452.40 556.53 452.60 553.11 452.80 551.50 453.00 551.32 453.20 551.54 453.40 553.15 453.60 556.37 453.80 558.27 454.00 557.50 454.20 557.29 454.40 557.42 454.60 558.31 454.80 559.92 455.00 562.08 455.20 563.37 455.40 564.06 455.60 564.03 455.80 564.13 456.00 564.15 456.20 564.10 456.40 563.98 456.60 564.12 457.00 564.00 458.00 563.94 459.00 564.22 460.00 563.35 461.00 564.58 461.80 564.88 462.00 564.83 462.05 564.80 462.30 564.87 462.55 565.01 462.80 564.95 463.00 565.09 463.05 565.07 463.30 565.06 463.55 565.19 463.80 565.16 464.00 566.13 464.05 565.07 464.30 565.06 464.55 565.04 464.80 565.06 465.00 565.08 465.05 565.22 465.30 565.09 465.55 565.24 465.80 565.39 466.00 565.50 466.05 565.65 466.30 565.65 466.55 565.78 466.80 565.84 467.00 565.97 467.05 565.89 467.30 566.03 467.55 565.96 467.80 566.02 468.00 566.05 468.05 566.09 469.00 566.27 470.00 566.52 471.00 566.89 472.00 567.06 473.00 567.42 474.00 567.73 475.00 567.34 476.00 568.05 477.00 568.12 478.00 569.32 479.00 568.11 480.00 568.18 481.00 568.24 482.00 568.15 483.00 568.30 484.00 568.32 485.00 569.51 486.00 568.38 486.30 568.40 486.55 568.38 486.80 568.42 487.00 568.42 487.05 568.43 487.30 568.45 487.55 568.46 487.80 568.47 488.00 568.38 488.05 568.46 488.30 568.46 488.55 568.48 488.80 568.42 489.00 568.55 489.05 568.47 489.30 568.49 489.55 568.47 489.80 568.57 490.00 568.50 490.05 568.49 490.30 568.44 490.55 568.38 490.80 568.25 491.00 567.14 491.05 568.18 491.30 567.81 491.55 567.62 491.80 567.27 492.00 566.90 492.05 566.83 492.30 566.44 492.55 566.02 492.80 565.75 493.00 565.56 493.05 565.49 493.30 565.24 493.55 565.15 493.80 565.14 494.00 565.17 494.05 565.12 494.30 565.10 494.55 565.08 494.80 565.16 495.00 565.19 495.05 565.25 495.30 565.42 495.55 565.51 495.80 565.82 496.00 566.05 496.05 566.19 496.30 566.55 496.55 567.04 496.80 567.41 497.00 567.78 497.05 567.87 497.30 568.21 497.55 568.38 497.80 568.57 498.00 568.64 498.05 568.67 498.30 568.76 498.55 568.76 498.80 568.78 499.00 568.86 499.05 568.83 499.30 568.88 499.55 568.87 499.80 568.82 500.00 568.91 500.05 568.80 500.30 568.89 500.55 568.85 500.80 568.86 501.00 568.30 501.05 568.88 501.30 568.99 501.55 568.97 501.80 568.91 502.00 568.91 502.05 568.92 502.30 568.80 503.00 569.02 504.00 568.97 505.00 569.12 506.00 568.11 507.00 569.15 508.00 569.15 509.00 569.16 510.00 569.17 511.00 569.24 512.00 569.31 513.00 569.21 514.00 569.37 515.00 569.32 516.00 569.40 517.00 569.45 518.00 569.48 519.00 569.49 520.00 569.51 521.00 569.59 522.00 569.55 523.00 568.76 524.00 569.65 525.00 569.69 526.00 569.69 527.00 569.74 528.00 569.81 529.00 570.88 530.00 569.87 531.00 569.93 532.00 569.95 533.00 569.06 534.00 569.93 535.00 569.86 536.00 570.02 537.00 570.02 538.00 569.32 539.00 570.08 540.00 570.13 541.00 570.93 542.00 570.18 543.00 570.23 544.00 570.23 545.00 570.25 546.00 570.26 547.00 570.40 548.00 570.32 549.00 571.19 550.00 570.44 551.00 570.53 552.00 570.49 553.00 570.50 554.00 570.48 555.00 570.47 556.00 570.51 557.00 570.53 558.00 570.55 559.00 570.54 560.00 570.50 561.00 570.52 562.00 570.48 563.00 570.47 564.00 570.51 565.00 570.50 566.00 569.57 567.00 570.42 568.00 570.60 569.00 570.44 570.00 569.52 571.00 570.53 572.00 570.54 573.00 570.54 574.00 570.52 575.00 570.53 576.00 570.47 577.00 570.51 578.00 570.54 579.00 570.55 580.00 570.61 581.00 571.18 582.00 570.50 583.00 570.50 584.00 570.47 585.00 571.18 586.00 570.44 587.00 570.46 588.00 570.50 589.00 570.47 590.00 570.51 591.00 570.48 592.00 570.46 592.80 570.49 593.00 570.51 593.05 570.46 593.30 570.49 593.55 570.49 593.80 570.42 594.00 570.38 594.05 570.42 594.30 570.45 594.55 570.49 594.80 570.49 595.00 570.44 595.05 570.32 595.30 570.19 595.55 570.09 595.80 569.76 596.00 569.64 596.05 569.50 596.30 569.35 596.55 569.24 596.80 569.31 597.00 569.25 597.05 569.32 597.30 569.35 597.55 569.43 597.80 569.71 598.00 571.06 598.05 569.97 598.30 570.26 598.55 570.50 598.80 570.48 599.00 570.39 599.05 570.46 599.30 570.41 599.55 570.48 599.80 570.45 600.00 570.49 600.05 570.48 600.30 570.52 600.55 570.59 600.80 570.50 601.00 570.47 602.00 570.55 603.00 570.53 604.00 570.53 605.00 571.25 606.00 570.52 607.00 570.51 608.00 570.56 609.00 570.62 610.00 571.39 611.00 570.47 612.00 570.51 613.00 570.48 614.00 570.51 615.00 570.53 616.00 571.48 617.00 570.46 618.00 570.58 619.00 570.47 620.00 570.46 621.00 570.49 622.00 570.49 623.00 570.57 624.00 571.67 625.00 570.48 626.00 570.58 627.00 570.53 628.00 570.48 629.00 570.44 630.00 570.46 631.00 570.49 632.00 570.46 633.00 570.57 634.00 570.51 635.00 569.31 636.00 570.46 637.00 570.46 638.00 570.53 639.00 570.48 640.00 570.58 640.90 570.53 641.00 570.50 641.10 570.52 641.30 570.49 641.50 570.54 641.70 570.48 641.90 570.44 642.00 570.53 642.10 570.19 642.20 569.89 642.30 569.12 642.40 568.00 642.50 566.36 642.60 564.46 642.70 562.35 642.80 560.46 642.90 558.94 643.00 557.89 643.10 557.37 643.20 557.10 643.30 557.16 643.40 557.14 643.50 557.37 643.60 557.89 643.70 558.96 643.80 560.43 643.90 562.44 644.00 564.43 644.10 563.61 644.20 562.64 644.30 561.83 644.40 561.50 644.50 561.33 644.60 561.30 644.70 561.25 644.80 561.43 644.90 561.85 645.00 562.56 645.10 563.64 645.20 564.95 645.30 566.41 645.40 567.67 645.50 568.85 645.60 569.61 645.70 570.10 645.80 570.29 646.00 570.53 646.20 570.47 646.40 570.46 646.60 570.50 646.80 570.55 647.00 570.49 648.00 570.49 649.00 570.53 650.00 570.52 651.00 570.51 652.00 570.45 652.30 570.58 652.55 570.52 652.80 570.49 653.00 570.46 653.05 570.57 653.30 570.48 653.55 570.55 653.80 570.51 654.00 570.45 654.05 570.55 654.30 570.49 654.55 570.47 654.80 570.23 655.00 570.13 655.05 570.08 655.30 569.77 655.55 569.52 655.80 569.35 656.00 569.26 656.05 569.26 656.30 569.27 656.55 569.27 656.80 569.30 657.00 569.49 657.05 569.59 657.30 569.76 657.55 569.94 657.80 570.28 658.00 570.40 658.05 570.36 658.30 570.52 658.55 570.47 658.80 570.56 659.00 570.45 659.05 570.47 659.30 570.51 659.55 570.47 659.80 570.46 660.00 571.14 660.05 570.51 660.30 570.51 661.00 570.55 662.00 570.53 663.00 570.44 664.00 571.49 665.00 570.52 666.00 570.57 667.00 570.54 668.00 570.58 669.00 570.51 670.00 570.49 671.00 570.50 672.00 570.59 673.00 570.48 674.00 570.51 675.00 569.55 676.00 570.54 677.00 570.49 678.00 571.20 679.00 570.49 680.00 570.49 681.00 570.44 682.00 570.56 683.00 569.57 684.00 570.43 685.00 570.38 686.00 570.54 687.00 570.44 688.00 570.50 689.00 570.42 690.00 570.43 691.00 570.54 692.00 570.56 693.00 570.59 694.00 570.55 695.00 570.51 696.00 570.52 697.00 570.54 698.00 571.39 699.00 570.49 700.00 569.75 701.00 571.15 702.00 569.44 703.00 570.60 704.00 570.67 705.00 570.64 706.00 570.68 707.00 570.67 708.00 570.64 709.00 570.71 710.00 570.83 711.00 570.78 712.00 570.72 713.00 570.82 714.00 569.97 715.00 570.86 716.00 570.97 717.00 570.88 718.00 570.93 719.00 570.93 720.00 571.03 721.00 570.97 722.00 571.00 723.00 571.05 724.00 572.25 725.00 570.47 726.00 571.14 727.00 571.10 728.00 571.23 729.00 571.22 730.00 571.86 731.00 571.27 732.00 572.48 732.70 571.33 732.93 571.30 733.00 571.26 733.17 571.30 733.40 571.30 733.63 571.27 733.87 571.31 734.00 571.24 734.10 571.32 734.33 570.84 734.57 569.62 734.60 569.43 734.80 567.93 735.00 566.65 735.03 566.54 735.20 566.00 735.27 565.86 735.40 565.80 735.50 565.79 735.60 565.80 735.73 565.92 735.80 566.00 735.97 566.49 736.00 566.81 736.20 567.99 736.40 569.49 736.43 569.60 736.60 569.50 736.67 569.40 736.80 569.23 736.90 569.21 737.00 569.29 737.13 569.31 737.20 569.33 737.37 569.48 737.40 569.61 737.60 570.06 737.80 570.75 737.83 570.85 738.00 571.13 738.07 571.30 738.20 571.34 738.40 571.31 738.60 571.40 738.80 571.35 739.00 571.44 739.20 571.44 739.40 571.51 740.00 571.41 741.00 571.48 742.00 571.54 743.00 571.50 744.00 571.56 745.00 571.60 746.00 571.55 747.00 571.62 748.00 571.63 749.00 571.62 750.00 571.62 751.00 571.75 752.00 571.73 753.00 571.80 754.00 571.78 755.00 571.86 756.00 571.83 757.00 571.82 758.00 571.94 759.00 572.00 760.00 571.89 761.00 570.93 762.00 572.02 763.00 572.06 764.00 572.08 765.00 572.09 766.00 573.36 767.00 572.08 768.00 572.18 769.00 572.11 770.00 572.26 771.00 572.18 772.00 572.23 773.00 572.28 774.00 572.25 775.00 572.24 776.00 572.38 777.00 572.34 778.00 572.36 779.00 572.36 780.00 572.48 781.00 572.42 782.00 572.57 783.00 573.49 784.00 572.40 785.00 572.60 786.00 572.51 787.00 572.60 788.00 572.61 789.00 572.62 790.00 573.48 791.00 572.68 792.00 572.76 793.00 572.66 793.60 572.75 793.80 572.82 794.00 572.69 794.20 572.75 794.40 572.79 794.60 572.84 794.80 572.74 795.00 572.42 795.20 572.00 795.40 571.30 795.60 570.59 795.80 570.28 796.00 570.25 796.20 570.37 796.40 570.61 796.60 571.21 796.80 571.98 797.00 569.81 797.20 563.56 797.40 554.38 797.60 546.82 797.77 543.46 797.80 543.10 797.93 542.68 798.00 542.56 798.10 542.70 798.20 543.10 798.27 543.95 798.40 546.78 798.43 547.61 798.60 554.44 798.77 562.42 798.80 563.67 798.93 565.53 799.00 562.52 799.10 557.86 799.20 553.80 799.27 551.59 799.40 549.18 799.43 548.74 799.60 548.30 799.77 548.70 799.80 549.11 799.93 551.53 800.00 553.84 800.10 558.02 800.20 562.62 800.27 565.49 800.30 566.68 800.40 567.42 800.43 566.73 800.55 563.51 800.60 562.07 800.77 558.09 800.80 557.53 800.93 555.88 801.00 555.49 801.05 555.25 801.10 555.15 801.20 555.11 801.27 555.18 801.30 555.15 801.40 555.42 801.43 555.57 801.55 556.78 801.60 557.63 801.80 562.13 802.00 567.54 802.05 568.67 802.20 571.26 802.30 571.99 802.40 571.59 802.55 570.77 802.60 570.54 802.80 569.34 803.00 568.48 803.05 568.30 803.20 568.00 803.30 567.94 803.40 567.90 803.55 567.91 803.60 567.95 803.80 567.98 804.00 568.50 804.05 568.70 804.30 569.96 804.55 571.28 804.80 572.46 805.00 572.90 805.05 572.74 805.30 573.01 805.55 573.01 805.80 572.97 806.00 573.05 806.05 573.09 806.30 573.12 806.55 573.13 807.00 573.16 808.00 573.17 809.00 573.28 810.00 573.21 811.00 573.50 812.00 573.53 813.00 573.56 814.00 573.63 815.00 573.65 816.00 573.68 817.00 573.71 818.00 573.73 819.00 573.93 820.00 574.07 821.00 573.94 822.00 574.07 823.00 574.19 824.00 574.27 825.00 574.27 826.00 573.19 827.00 574.34 828.00 574.36 829.00 574.24 830.00 574.29 831.00 574.32 832.00 574.25 833.00 574.18 834.00 574.29 835.00 574.34 836.00 574.21 837.00 574.20 838.00 574.18 839.00 574.26 840.00 574.19 841.00 574.28 842.00 574.24 843.00 575.32 844.00 574.27 845.00 574.24 846.00 574.25 847.00 574.15 848.00 574.25 849.00 574.19 850.00 574.18 851.00 574.26 852.00 574.22 853.00 575.31 854.00 574.25 855.00 574.15 856.00 574.23 857.00 574.22 858.00 574.29 859.00 574.20 860.00 574.15 861.00 574.23 862.00 574.08 863.00 574.16 864.00 574.08 865.00 574.20 866.00 574.11 867.00 574.07 868.00 574.16 868.50 574.14 868.75 574.10 869.00 574.12 869.25 574.13 869.50 574.03 869.75 574.15 870.00 574.17 870.25 574.13 870.50 574.11 870.75 574.05 871.00 573.83 871.25 573.49 871.50 573.29 871.75 572.91 872.00 572.63 872.25 572.58 872.50 572.56 872.75 572.66 873.00 572.73 873.25 572.83 873.50 573.11 873.75 573.51 874.00 573.86 874.25 573.93 874.50 574.05 874.75 574.04 875.00 574.12 875.25 574.08 875.50 574.11 875.75 574.09 876.00 574.11 876.25 574.05 876.50 574.16 877.00 575.30 878.00 574.18 879.00 574.07 880.00 574.01 881.00 574.05 882.00 574.08 883.00 574.04 884.00 574.06 885.00 574.14 886.00 574.01 887.00 574.11 888.00 575.25 889.00 574.06 890.00 574.07 891.00 574.09 892.00 574.08 893.00 574.12 894.00 573.96 895.00 574.05 896.00 574.10 897.00 574.10 898.00 573.92 899.00 573.96 900.00 573.98 901.00 574.06 902.00 573.97 903.00 573.99 903.10 574.04 903.35 573.90 903.60 574.04 903.85 573.98 904.00 574.05 904.10 574.04 904.35 574.05 904.60 573.95 904.85 573.80 905.00 573.48 905.10 573.13 905.35 571.93 905.60 570.59 905.85 569.67 906.00 569.38 906.10 569.33 906.35 569.34 906.60 569.45 906.85 569.98 907.00 570.61 907.10 571.22 907.35 572.54 907.60 573.40 907.85 573.90 908.00 575.16 908.10 574.02 908.35 574.02 908.60 573.92 908.85 574.08 909.00 573.96 909.10 574.03 909.35 573.97 910.00 574.01 911.00 575.22 912.00 573.98 913.00 574.01 914.00 574.00 915.00 574.01 916.00 573.97 917.00 573.99 918.00 574.12 919.00 573.99 920.00 574.02 921.00 574.13 922.00 575.07 923.00 574.05 924.00 574.05 925.00 573.94 926.00 574.71 927.00 574.02 928.00 574.00 929.00 574.02 930.00 574.02 931.00 575.09 932.00 573.95 933.00 574.07 934.00 574.02 935.00 573.13 936.00 574.01 937.00 574.04 938.00 574.08 939.00 573.95 940.00 573.97 941.00 574.08 942.00 574.03 943.00 573.99 944.00 574.09 945.00 574.04 946.00 573.98 947.00 574.06 948.00 575.14 949.00 574.10 950.00 574.83 951.00 574.01 952.00 574.04 953.00 574.12 954.00 573.98 955.00 573.99 956.00 574.13 957.00 574.07 958.00 574.06 959.00 574.03 960.00 573.97 961.00 574.02 962.00 574.83 963.00 573.97 964.00 574.12 965.00 573.94 966.00 574.11 967.00 574.09 968.00 574.08 969.00 574.05 970.00 574.76 971.00 574.09 972.00 574.05 973.00 574.03 974.00 574.11 975.00 574.05 976.00 574.04 977.00 573.98 978.00 574.11 979.00 574.04 980.00 574.06 981.00 574.22 982.00 574.05 983.00 574.07 984.00 574.04 985.00 574.07 986.00 574.15 987.00 574.03 988.00 574.00 989.00 574.13 990.00 574.13 991.00 574.02 992.00 575.33 993.00 574.08 994.00 574.12 995.00 574.12 996.00 574.08 997.00 574.15 998.00 574.12 999.00 574.07 1000.00 574.00 1001.00 574.12 1002.00 574.03 1003.00 574.05 1004.00 574.11 1005.00 574.07 1006.00 574.14 1007.00 574.10 1008.00 574.10 1009.00 574.14 1010.00 574.10 1011.00 574.09 1012.00 574.08 1013.00 574.13 1014.00 574.02 1015.00 574.12 1016.00 574.04 1017.00 574.18 1018.00 574.18 1019.00 574.07 1020.00 574.05 1021.00 574.08 1022.00 574.11 1023.00 574.14 1024.00 574.12 1025.00 574.14 1026.00 574.09 1027.00 574.75 1028.00 573.19 1029.00 574.09 1030.00 574.05 1031.00 574.16 1032.00 574.12 1033.00 574.06 1034.00 574.12 1035.00 574.09 1036.00 574.24 1037.00 574.17 1038.00 574.12 1039.00 574.17 1040.00 574.11 1041.00 574.10 1042.00 574.18 1043.00 574.11 1044.00 574.06 1045.00 574.14 1046.00 574.10 1047.00 574.18 1048.00 574.11 1049.00 574.14 1050.00 574.07 1051.00 574.11 1052.00 574.11 1053.00 574.09 1054.00 574.17 1055.00 574.17 1056.00 574.13 1057.00 573.33 1058.00 574.09 1059.00 574.03 1059.25 574.16 1059.50 574.11 1059.75 574.06 1060.00 574.05 1060.25 574.06 1060.50 574.10 1060.75 574.16 1061.00 574.14 1061.25 574.11 1061.50 574.00 1061.75 573.92 1062.00 573.54 1062.25 573.06 1062.50 572.38 1062.75 571.78 1063.00 571.31 1063.25 570.93 1063.50 570.87 1063.75 570.82 1064.00 570.80 1064.25 570.85 1064.50 571.21 1064.75 571.50 1065.00 572.08 1065.25 572.72 1065.50 573.30 1065.75 573.75 1066.00 573.86 1066.25 574.05 1066.50 573.83 1066.75 573.46 1067.00 573.05 1067.25 572.72 1067.50 572.39 1067.75 572.24 1068.00 572.19 1068.25 572.35 1068.50 572.39 1068.75 572.60 1069.00 573.04 1069.25 573.42 1069.50 573.71 1069.75 573.95 1070.00 574.07 1070.25 574.19 1070.50 574.16 1070.75 574.15 1071.00 574.13 1071.25 574.09 1071.50 574.17 1071.75 574.25 1072.00 574.10 1073.00 574.17 1074.00 574.07 1075.00 574.07 1076.00 574.11 1077.00 574.15 1078.00 574.15 1079.00 574.16 1080.00 574.24 1081.00 574.12 1082.00 574.13 1083.00 574.06 1084.00 574.14 1085.00 574.18 1086.00 574.11 1087.00 574.14 1088.00 574.16 1089.00 574.18 1090.00 574.17 1091.00 574.13 1092.00 574.13 1093.00 574.10 1094.00 574.16 1095.00 574.21 1096.00 574.16 1097.00 574.15 1098.00 574.12 1099.00 574.15 1100.00 574.09 1101.00 574.16 1102.00 574.14 1103.00 574.22 1104.00 574.15 1105.00 574.23 1106.00 574.18 1107.00 574.15 1108.00 574.17 1109.00 574.16 1110.00 574.27 1111.00 574.17 1112.00 574.15 1113.00 574.15 1114.00 574.15 1115.00 574.13 1116.00 574.20 1117.00 574.13 1118.00 574.14 1119.00 574.13 1120.00 574.12 1121.00 574.18 1122.00 574.26 1123.00 574.21 1124.00 574.14 1125.00 574.21 1126.00 574.27 1127.00 574.17 1128.00 574.18 1129.00 574.23 1130.00 574.12 1131.00 574.13 1132.00 574.20 1133.00 574.12 1134.00 574.20 1135.00 574.22 1136.00 574.26 1137.00 573.58 1138.00 574.16 1139.00 574.24 1140.00 574.18 1141.00 574.25 1142.00 574.18 1143.00 574.20 1144.00 574.11 1145.00 574.22 1146.00 574.21 1147.00 574.28 1148.00 574.20 1149.00 574.36 1150.00 574.19 1151.00 574.23 1152.00 574.21 1153.00 574.21 1154.00 574.20 1155.00 574.21 1156.00 574.24 1157.00 574.20 1158.00 574.18 1159.00 574.94 1160.00 574.17 1161.00 574.21 1162.00 574.26 1163.00 574.14 1164.00 574.17 1165.00 574.17 1166.00 574.28 1167.00 574.14 1168.00 574.23 1169.00 574.18 1170.00 574.26 1171.00 574.16 1172.00 574.20 1173.00 574.17 1174.00 574.22 1175.00 574.33 1176.00 574.25 1177.00 574.35 1178.00 574.20 1179.00 574.24 1180.00 574.22 1181.00 575.28 1182.00 574.22 1183.00 574.18 1184.00 574.27 1185.00 574.26 1186.00 574.27 1187.00 574.26 1188.00 574.24 1189.00 574.20 1190.00 574.23 1191.00 574.17 1192.00 574.34 1193.00 574.27 1194.00 574.23 1195.00 574.27 1196.00 574.28 1197.00 574.22 1198.00 574.23 1199.00 574.34 1200.00 574.20 1201.00 574.29 1202.00 574.31 1203.00 574.20 1204.00 574.28 1205.00 574.28 1206.00 574.21 1207.00 574.37 1208.00 574.20 1209.00 574.20 1210.00 574.29 1211.00 574.30 1212.00 573.28 1213.00 574.33 1214.00 574.42 1215.00 574.29 1216.00 574.21 1217.00 574.29 1218.00 574.23 1219.00 574.29 1220.00 574.16 1221.00 574.23 1222.00 574.29 1223.00 574.30 1224.00 574.30 1225.00 574.25 1226.00 574.40 1227.00 574.33 1228.00 574.32 1229.00 574.25 1230.00 574.21 1231.00 574.34 1232.00 574.23 1233.00 574.31 1234.00 574.16 1235.00 574.25 1236.00 574.20 1237.00 574.20 1238.00 574.30 1239.00 574.39 1240.00 574.30 1241.00 574.28 1242.00 574.29 1243.00 574.94 1244.00 574.29 1245.00 575.55 1246.00 574.19 1247.00 574.30 1248.00 574.31 1249.00 574.24 1250.00 574.38 1251.00 574.33 1252.00 574.33 1253.00 574.25 1254.00 574.36 1255.00 574.39 1256.00 574.30 1257.00 574.27 1258.00 574.27 1259.00 574.26 1260.00 574.22 1261.00 574.35 1262.00 574.39 1263.00 574.37 1264.00 574.31 1265.00 574.40 1266.00 574.30 1267.00 574.44 1268.00 574.28 1269.00 574.34 1270.00 574.43 1271.00 574.39 1272.00 574.31 1273.00 574.35 1274.00 574.35 1275.00 574.38 1276.00 574.40 1277.00 574.41 1278.00 574.38 1279.00 573.57 1280.00 574.35 1281.00 574.39 1282.00 574.46 1283.00 574.40 1284.00 574.34 1285.00 574.42 1286.00 574.42 1287.00 574.42 1288.00 574.44 1289.00 574.43 1290.00 574.31 1291.00 574.41 1292.00 574.38 1293.00 574.50 1294.00 574.44 1295.00 574.45 1296.00 574.48 1297.00 574.41 1298.00 574.45 1299.00 574.52 1300.00 574.46 1301.00 574.45 1302.00 574.61 1303.00 574.53 1304.00 574.48 1305.00 574.49 1306.00 574.49 1307.00 574.51 1308.00 574.46 1309.00 574.56 1310.00 574.48 1311.00 574.49 1312.00 574.55 1313.00 574.48 1314.00 574.43 1315.00 574.55 1316.00 575.58 1317.00 574.50 1318.00 574.58 1319.00 574.49 1320.00 574.64 1321.00 575.73 1322.00 574.48 1323.00 574.49 1324.00 574.59 1325.00 574.55 1326.00 574.53 1327.00 574.65 1328.00 574.48 1329.00 574.55 1330.00 574.65 1331.00 574.64 1332.00 574.58 1333.00 574.52 1334.00 574.59 1335.00 574.61 1336.00 574.57 1337.00 574.64 1338.00 574.59 1339.00 574.59 1340.00 574.63 1341.00 574.68 1342.00 574.60 1343.00 574.60 1344.00 574.57 1345.00 574.72 1346.00 574.65 1347.00 574.55 1348.00 574.70 1349.00 574.67 1350.00 574.78 1351.00 574.63 1352.00 574.71 1353.00 574.66 1354.00 574.67 1355.00 574.66 1356.00 574.66 1357.00 574.68 1358.00 574.73 1359.00 574.66 1360.00 574.62 1361.00 574.68 1362.00 574.76 1363.00 574.62 1364.00 574.70 1365.00 574.78 1366.00 574.69 1367.00 574.65 1368.00 574.65 1369.00 574.75 1370.00 574.71 1371.00 574.77 1372.00 574.76 1373.00 574.72 1374.00 574.78 1375.00 574.78 1376.00 574.72 1377.00 574.81 1378.00 574.73 1379.00 574.65 1380.00 574.75 1381.00 574.79 1382.00 574.73 1383.00 574.71 1384.00 574.79 1385.00 574.78 1386.00 574.76 1387.00 574.80 1388.00 574.81 1389.00 574.71 1390.00 574.66 1391.00 574.83 1392.00 574.75 1393.00 574.79 1394.00 574.75" fill="none" stroke="#E8393A" stroke-width="2.85" stroke-linejoin="round" stroke-linecap="butt"/>
<rect x="365.2" y="559" width="5.6" height="5.5" fill="#E8393A"/>
<path d="M205.00 512.98 206.00 511.83 207.00 512.87 208.00 512.82 209.00 511.35 210.00 511.18 211.00 511.02 212.00 510.80 213.00 510.71 214.00 511.69 215.00 510.50 216.00 510.26 217.00 510.14 218.00 509.87 219.00 509.78 220.00 509.55 221.00 509.46 222.00 510.56 223.00 509.14 224.00 508.91 225.00 508.80 226.00 508.53 227.00 508.39 228.00 508.36 229.00 507.96 230.00 506.70 231.00 507.65 232.00 508.72 233.00 506.72 234.00 507.15 235.00 508.16 236.00 506.01 237.00 506.71 238.00 507.56 239.00 506.30 240.00 505.92 241.00 505.91 242.00 506.76 243.00 504.67 244.00 504.75 245.00 505.30 246.00 504.99 247.00 504.77 248.00 504.65 249.00 504.39 250.00 504.22 251.00 504.20 252.00 504.08 253.00 503.96 254.00 504.82 255.00 502.81 256.00 504.79 257.00 503.65 258.00 503.54 259.00 502.83 260.00 503.30 261.00 504.21 262.00 503.17 263.00 503.14 264.00 503.00 265.00 502.97 266.00 501.83 267.00 502.75 268.00 503.38 269.00 502.64 270.00 503.29 271.00 502.28 272.00 501.44 273.00 502.22 274.00 502.10 275.00 502.03 276.00 500.78 277.00 501.08 278.00 501.84 279.00 500.96 280.00 502.54 281.00 501.60 282.00 501.61 283.00 500.26 284.00 501.45 285.00 501.51 286.00 500.22 287.00 501.24 288.00 501.21 289.00 501.81 290.00 502.27 291.00 501.08 292.00 501.07 293.00 500.87 294.00 500.94 295.00 499.99 296.00 500.75 297.00 500.74 298.00 500.59 299.00 501.76 300.00 500.48 301.00 500.49 302.00 500.46 303.00 500.46 304.00 500.34 305.00 500.29 306.00 500.30 307.00 501.19 308.00 500.19 309.00 500.16 310.00 500.79 311.00 500.06 312.00 500.07 313.00 500.01 314.00 499.90 315.00 499.96 316.00 499.88 317.00 498.83 318.00 499.82 319.00 500.46 320.00 499.71 321.00 499.61 322.00 499.58 323.00 499.60 324.00 499.47 325.00 499.54 326.00 498.44 327.00 500.24 328.00 499.30 329.00 499.16 330.00 499.10 331.00 497.85 332.00 499.00 333.00 498.82 334.00 498.71 335.00 499.71 336.00 499.76 337.00 497.87 338.00 497.84 339.00 497.19 340.00 498.36 341.00 498.20 342.00 499.28 343.00 498.13 344.00 498.03 345.00 498.73 346.00 497.82 347.00 496.71 348.00 497.69 349.00 497.54 350.00 497.53 351.00 496.48 352.00 497.36 353.00 497.27 354.00 497.20 355.00 497.11 356.00 497.11 357.00 495.90 358.00 496.94 359.00 496.88 360.00 497.56 361.00 496.72 362.00 495.60 363.00 497.71 364.00 496.51 365.00 497.10 366.00 496.39 367.00 497.20 368.00 496.37 369.00 496.33 370.00 496.05 371.00 496.09 372.00 495.92 373.00 495.95 374.00 495.85 375.00 495.67 376.00 494.98 377.00 495.79 378.00 496.38 379.00 494.50 380.00 495.51 381.00 496.69 382.00 495.43 383.00 496.57 384.00 495.31 385.00 495.28 386.00 495.22 387.00 495.14 388.00 495.13 389.00 495.02 390.00 494.23 391.00 493.75 392.00 496.17 393.00 494.90 394.00 494.79 395.00 494.83 396.00 494.70 397.00 494.74 398.00 494.58 399.00 494.55 400.00 494.48 401.00 494.41 402.00 493.43 403.00 493.24 404.00 495.71 405.00 494.43 406.00 494.37 407.00 494.38 408.00 493.76 409.00 494.41 410.00 494.38 411.00 493.51 412.00 495.32 413.00 494.30 413.50 494.32 413.75 494.39 414.00 494.28 414.25 494.41 414.50 494.35 414.75 494.35 415.00 494.34 415.25 494.35 415.50 494.33 415.75 494.16 416.00 494.97 416.25 493.83 416.50 493.57 416.75 493.43 417.00 493.20 417.25 493.07 417.50 493.14 417.75 493.23 418.00 493.26 418.25 493.41 418.50 493.78 418.75 494.11 419.00 494.30 419.25 494.54 419.50 494.69 419.75 494.67 420.00 494.80 420.25 494.95 420.50 494.87 420.75 494.94 421.00 494.99 421.25 495.10 421.50 495.13 422.00 495.25 423.00 494.20 424.00 495.54 425.00 495.80 426.00 495.80 427.00 495.93 428.00 495.91 429.00 496.01 430.00 496.79 431.00 496.11 432.00 496.10 433.00 496.19 434.00 496.17 435.00 496.32 436.00 495.12 437.00 496.36 438.00 496.49 439.00 497.10 440.00 496.58 441.00 497.35 442.00 496.69 443.00 497.32 444.00 497.69 445.00 497.71 446.00 496.93 446.10 496.90 446.35 496.94 446.60 496.92 446.85 496.98 447.00 497.02 447.10 497.04 447.35 497.01 447.60 496.80 447.85 496.44 448.00 495.62 448.10 494.91 448.20 493.84 448.35 491.90 448.43 490.76 448.60 488.47 448.67 487.68 448.85 486.09 448.90 485.84 449.00 485.52 449.10 485.28 449.13 485.09 449.35 485.01 449.37 485.03 449.60 485.45 449.83 486.75 449.85 486.90 450.00 488.48 450.07 489.49 450.10 489.81 450.30 492.66 450.35 492.59 450.53 491.20 450.60 490.89 450.77 490.34 450.85 490.27 451.00 490.34 451.10 490.38 451.23 490.45 451.35 490.68 451.47 491.36 451.60 492.17 451.70 493.00 451.85 494.53 451.93 495.18 452.00 495.75 452.10 496.42 452.17 496.74 452.35 497.18 452.40 497.24 452.63 497.36 452.87 497.38 453.00 498.72 453.10 497.38 453.33 497.51 453.57 497.46 454.00 496.90 455.00 497.12 456.00 499.14 457.00 498.08 458.00 497.09 459.00 498.45 460.00 498.52 461.00 498.78 462.00 498.99 463.00 499.17 464.00 499.31 465.00 499.51 466.00 499.67 467.00 499.93 468.00 500.08 469.00 500.19 470.00 499.56 471.00 500.53 472.00 500.80 473.00 499.69 474.00 501.14 475.00 501.21 476.00 501.32 477.00 501.58 478.00 501.54 479.00 501.67 480.00 501.70 481.00 501.81 482.00 501.26 483.00 501.06 483.70 502.20 483.95 502.10 484.00 502.16 484.20 502.13 484.45 502.11 484.70 502.16 484.95 502.21 485.00 502.16 485.20 502.08 485.45 502.21 485.70 502.27 485.95 502.21 486.00 502.26 486.20 502.28 486.45 502.36 486.70 502.31 486.95 502.38 487.00 503.04 487.20 502.36 487.45 502.38 487.70 502.23 487.95 502.38 488.00 502.37 488.20 502.31 488.45 502.19 488.70 502.06 488.95 501.78 489.00 501.77 489.20 501.46 489.45 501.05 489.70 500.48 489.95 499.87 490.00 499.91 490.20 499.45 490.45 498.86 490.70 498.27 490.95 497.96 491.00 497.83 491.20 497.49 491.45 497.34 491.70 497.13 491.95 497.07 492.00 497.13 492.20 497.15 492.45 497.06 492.70 497.14 492.95 497.04 493.00 497.21 493.20 497.19 493.45 497.39 493.70 497.69 493.95 497.93 494.00 497.98 494.20 498.37 494.45 498.92 494.70 499.47 494.95 499.99 495.00 500.21 495.20 500.74 495.45 501.38 495.70 501.79 495.95 502.14 496.00 502.29 496.20 502.48 496.45 502.75 496.70 502.91 496.95 502.99 497.00 502.03 497.20 503.08 497.45 503.10 497.70 503.12 497.95 503.18 498.00 503.17 498.20 503.15 498.45 503.18 498.70 503.27 498.95 503.31 499.00 503.19 499.20 503.18 499.45 503.26 499.70 503.25 499.95 503.31 500.00 503.29 500.20 503.30 500.45 503.36 500.70 503.36 500.95 503.42 501.00 502.55 501.20 503.46 502.00 503.61 503.00 503.60 504.00 503.75 505.00 503.79 506.00 503.06 507.00 503.96 508.00 504.04 509.00 504.21 510.00 504.32 511.00 504.37 512.00 504.52 513.00 504.57 514.00 504.72 515.00 504.16 516.00 504.93 517.00 505.01 518.00 505.11 519.00 505.28 520.00 505.30 521.00 505.45 522.00 505.53 523.00 506.62 524.00 505.67 525.00 505.83 526.00 505.96 527.00 505.87 528.00 505.90 529.00 506.66 530.00 506.15 531.00 506.04 532.00 506.07 533.00 506.09 534.00 506.20 535.00 506.18 536.00 506.27 537.00 505.43 538.00 506.46 539.00 506.45 540.00 506.43 541.00 506.52 542.00 506.45 543.00 506.63 544.00 506.61 545.00 506.73 546.00 506.66 547.00 506.68 548.00 507.56 549.00 506.86 550.00 506.91 551.00 507.56 552.00 506.90 553.00 506.99 554.00 507.07 555.00 507.01 556.00 508.27 557.00 507.11 558.00 508.27 559.00 507.73 560.00 508.31 561.00 508.02 562.00 507.13 563.00 507.15 564.00 505.91 565.00 506.30 566.00 507.18 567.00 507.85 568.00 507.33 569.00 507.22 570.00 507.20 571.00 508.19 572.00 507.28 573.00 508.60 574.00 507.39 575.00 507.40 576.00 507.36 577.00 507.40 578.00 507.40 579.00 508.68 580.00 507.46 581.00 507.43 582.00 507.56 583.00 507.51 584.00 508.43 585.00 508.76 586.00 507.53 587.00 507.66 588.00 507.67 589.00 508.35 590.00 507.56 591.00 507.71 592.00 508.55 593.00 508.46 594.00 507.69 595.00 508.63 596.00 508.82 597.00 507.77 598.00 507.80 599.00 507.86 600.00 507.74 601.00 507.78 602.00 506.69 603.00 507.83 604.00 507.86 605.00 507.92 606.00 508.01 607.00 508.00 608.00 509.06 609.00 507.98 610.00 508.05 611.00 508.06 612.00 507.94 613.00 508.04 614.00 508.00 615.00 507.43 616.00 508.07 617.00 508.22 618.00 508.09 619.00 508.22 620.00 507.59 621.00 508.15 622.00 508.18 623.00 509.35 624.00 508.29 625.00 509.29 626.00 508.34 627.00 509.23 628.00 509.00 629.00 509.33 630.00 507.42 631.00 508.46 632.00 508.43 633.00 507.64 634.00 509.74 635.00 508.51 636.00 509.79 637.00 508.51 638.00 507.27 639.00 508.58 640.00 508.66 641.00 508.67 642.00 507.72 643.00 508.66 644.00 508.65 645.00 509.66 646.00 508.72 647.00 508.68 648.00 508.77 649.00 508.74 650.00 508.79 651.00 509.87 652.00 508.85 653.00 508.95 654.00 508.85 655.00 508.96 656.00 508.94 657.00 508.95 658.00 508.99 659.00 508.90 660.00 508.02 661.00 509.03 662.00 508.34 663.00 509.06 664.00 510.23 665.00 509.10 666.00 509.09 667.00 509.11 668.00 508.36 669.00 509.80 670.00 509.22 671.00 509.22 672.00 509.26 673.00 509.21 674.00 509.29 675.00 509.35 676.00 509.33 677.00 510.16 678.00 509.41 679.00 509.38 680.00 510.24 681.00 509.43 682.00 508.31 683.00 509.45 684.00 509.42 685.00 509.58 686.00 509.55 687.00 510.79 688.00 509.54 689.00 509.59 690.00 508.74 691.00 510.57 692.00 510.89 693.00 510.59 694.00 509.75 695.00 510.77 696.00 509.64 697.00 509.73 698.00 509.79 699.00 511.05 700.00 509.81 701.00 509.84 702.00 509.85 703.00 509.80 704.00 510.95 705.00 509.92 706.00 509.92 707.00 509.87 708.00 510.00 709.00 509.91 710.00 509.19 711.00 510.95 712.00 510.06 713.00 510.06 714.00 509.96 715.00 510.94 716.00 509.12 717.00 510.88 718.00 511.12 719.00 510.15 720.00 510.20 721.00 509.12 722.00 510.25 723.00 511.04 724.00 510.26 725.00 510.32 726.00 510.32 727.00 510.32 728.00 510.43 729.00 509.53 730.00 510.46 731.00 510.43 732.00 510.44 733.00 509.35 734.00 509.50 735.00 509.34 736.00 510.42 737.00 509.83 738.00 510.58 739.00 510.67 740.00 510.03 741.00 510.56 742.00 510.03 743.00 509.95 744.00 511.96 745.00 510.84 746.00 511.75 747.00 510.75 748.00 510.81 749.00 510.84 750.00 511.63 751.00 509.60 752.00 510.81 753.00 510.96 754.00 512.18 755.00 512.23 756.00 511.02 757.00 511.00 758.00 511.01 759.00 511.01 760.00 511.13 761.00 511.78 762.00 512.32 763.00 511.97 764.00 511.11 765.00 511.16 766.00 510.26 767.00 511.23 768.00 510.52 769.00 511.21 770.00 511.19 771.00 511.30 772.00 511.32 773.00 511.36 774.00 511.32 775.00 511.39 776.00 511.47 777.00 512.64 778.00 511.59 779.00 512.13 780.00 511.56 781.00 511.44 782.00 512.42 783.00 511.50 784.00 511.62 785.00 511.58 786.00 511.56 787.00 512.90 788.00 512.88 789.00 511.76 790.00 511.76 791.00 510.82 792.00 510.71 793.00 511.83 793.30 511.76 793.55 511.71 793.80 511.81 794.00 511.92 794.05 511.92 794.30 511.84 794.55 511.84 794.80 511.90 795.00 511.16 795.05 511.84 795.30 511.81 795.55 511.88 795.80 511.90 796.00 511.23 796.05 511.79 796.30 511.73 796.55 511.81 796.80 511.57 797.00 511.31 797.05 511.28 797.30 510.72 797.55 510.13 797.80 509.55 798.00 509.05 798.05 509.05 798.30 508.58 798.55 508.41 798.80 508.08 799.00 508.14 799.05 508.15 799.30 508.15 799.55 508.13 799.80 508.21 800.00 508.27 800.05 508.34 800.30 508.65 800.55 509.09 800.80 509.73 801.00 510.15 801.05 510.20 801.30 510.77 801.55 511.24 801.80 511.62 802.00 511.76 802.05 511.88 802.30 511.97 802.55 512.00 802.80 511.97 803.00 511.99 803.05 512.09 803.30 512.05 803.55 512.04 803.80 512.05 804.00 512.05 804.05 511.96 804.30 512.02 804.55 512.01 804.80 512.09 805.00 511.99 805.05 512.02 805.30 512.07 806.00 513.19 807.00 511.95 808.00 512.10 809.00 512.05 810.00 512.91 811.00 512.04 812.00 512.05 813.00 511.95 814.00 511.98 815.00 512.07 816.00 512.03 817.00 513.30 818.00 512.14 819.00 512.11 820.00 512.16 821.00 512.15 822.00 512.06 823.00 512.16 824.00 512.20 825.00 512.12 826.00 513.18 827.00 512.08 828.00 512.16 829.00 512.10 830.00 512.12 831.00 512.11 832.00 512.12 833.00 512.11 834.00 512.23 835.00 512.11 836.00 511.06 837.00 512.20 838.00 512.26 839.00 512.14 840.00 512.16 841.00 512.22 842.00 512.20 843.00 512.17 844.00 512.16 845.00 511.06 846.00 512.20 847.00 513.19 848.00 512.30 849.00 512.15 850.00 512.25 851.00 512.30 852.00 512.33 853.00 512.33 854.00 513.26 855.00 511.37 856.00 512.32 857.00 512.29 858.00 512.24 859.00 512.40 860.00 511.51 861.00 511.31 862.00 512.36 863.00 512.31 864.00 512.21 865.00 512.29 866.00 512.36 867.00 512.36 868.00 512.33 869.00 512.34 870.00 512.37 871.00 513.63 872.00 512.36 873.00 512.32 874.00 512.36 875.00 512.38 876.00 512.33 877.00 512.46 878.00 512.41 879.00 512.40 880.00 512.41 881.00 512.42 882.00 512.41 883.00 512.39 884.00 512.42 885.00 511.69 886.00 511.74 887.00 512.38 888.00 512.46 889.00 512.37 890.00 512.38 891.00 513.10 892.00 512.42 893.00 513.73 894.00 512.48 895.00 512.43 896.00 512.46 897.00 512.49 898.00 512.49 899.00 512.43 900.00 513.24 901.00 512.58 902.00 513.77 903.00 512.56 904.00 512.55 905.00 512.49 906.00 512.53 907.00 512.50 908.00 512.64 909.00 512.58 910.00 513.33 911.00 512.52 912.00 512.42 913.00 512.60 914.00 512.51 915.00 512.62 916.00 512.64 917.00 512.57 918.00 512.67 919.00 512.64 920.00 512.65 921.00 512.57 922.00 512.52 923.00 512.55 924.00 512.57 925.00 512.65 926.00 512.64 927.00 512.60 928.00 512.70 929.00 512.70 930.00 512.67 931.00 512.71 932.00 512.71 933.00 512.67 934.00 512.79 935.00 512.68 936.00 512.77 937.00 512.76 938.00 512.72 939.00 512.76 940.00 511.50 941.00 512.68 942.00 512.82 943.00 512.82 944.00 512.83 945.00 513.68 946.00 512.80 947.00 512.82 948.00 512.77 949.00 512.90 950.00 512.88 951.00 513.79 952.00 512.79 953.00 512.96 954.00 513.01 955.00 512.89 956.00 512.17 957.00 512.85 958.00 512.97 959.00 513.01 960.00 512.90 961.00 512.91 962.00 513.01 963.00 512.87 964.00 512.96 965.00 512.98 966.00 512.97 967.00 513.06 968.00 513.04 969.00 514.04 970.00 512.97 971.00 513.12 972.00 513.90 973.00 513.04 974.00 514.24 975.00 513.05 976.00 513.00 977.00 513.04 978.00 512.97 979.00 513.09 980.00 513.10 981.00 513.05 982.00 513.07 983.00 514.32 984.00 513.14 985.00 513.14 986.00 512.14 987.00 513.24 988.00 513.12 989.00 513.17 990.00 513.12 991.00 513.15 992.00 513.21 993.00 513.24 994.00 513.30 995.00 513.28 996.00 513.29 997.00 513.21 998.00 514.42 999.00 512.07 1000.00 512.32 1001.00 513.21 1002.00 513.33 1003.00 513.32 1004.00 513.19 1005.00 513.25 1006.00 513.22 1007.00 513.28 1008.00 513.33 1009.00 513.41 1010.00 513.40 1011.00 513.30 1012.00 513.35 1013.00 513.32 1014.00 513.45 1015.00 513.37 1016.00 514.06 1017.00 513.41 1018.00 513.38 1019.00 513.42 1020.00 513.43 1021.00 513.42 1022.00 513.40 1023.00 514.11 1024.00 513.59 1025.00 513.42 1026.00 513.47 1027.00 512.83 1028.00 514.42 1029.00 513.49 1030.00 513.42 1031.00 513.47 1032.00 513.46 1033.00 513.45 1034.00 513.49 1035.00 513.54 1036.00 513.48 1037.00 514.21 1038.00 513.48 1039.00 513.56 1040.00 513.54 1041.00 513.51 1042.00 513.55 1043.00 513.61 1044.00 513.57 1045.00 513.51 1046.00 513.53 1047.00 514.78 1048.00 513.55 1049.00 513.61 1050.00 514.52 1051.00 513.58 1052.00 514.64 1053.00 513.60 1054.00 513.64 1055.00 513.69 1056.00 512.76 1057.00 513.69 1058.00 513.70 1059.00 513.72 1060.00 513.69 1061.00 513.69 1062.00 513.66 1062.30 513.63 1062.55 513.71 1062.80 513.77 1063.00 514.68 1063.05 513.72 1063.30 513.81 1063.55 513.71 1063.80 513.78 1064.00 513.71 1064.05 513.76 1064.30 513.78 1064.55 513.76 1064.80 513.75 1065.00 513.72 1065.05 513.80 1065.30 513.78 1065.55 513.59 1065.80 513.50 1066.00 513.44 1066.05 513.38 1066.30 513.27 1066.55 513.01 1066.80 512.66 1067.00 512.21 1067.05 512.20 1067.30 511.82 1067.55 511.60 1067.80 511.28 1068.00 511.16 1068.05 511.15 1068.30 511.16 1068.55 511.06 1068.80 511.06 1069.00 511.08 1069.05 511.15 1069.30 511.18 1069.55 511.38 1069.80 511.56 1070.00 511.67 1070.05 511.76 1070.30 512.26 1070.55 512.55 1070.80 512.89 1071.00 513.25 1071.05 513.19 1071.30 513.55 1071.55 513.63 1071.80 513.59 1072.00 513.87 1072.05 513.71 1072.30 513.81 1072.55 513.77 1072.80 513.81 1073.00 513.74 1073.05 513.75 1073.30 513.73 1073.55 513.83 1073.80 513.82 1074.00 513.87 1074.05 513.75 1074.30 513.90 1074.55 513.78 1074.80 513.79 1075.00 513.73 1075.05 513.85 1076.00 514.61 1077.00 513.83 1078.00 513.87 1079.00 513.87 1080.00 513.86 1081.00 513.85 1082.00 512.61 1083.00 513.87 1084.00 513.87 1085.00 513.85 1086.00 513.86 1087.00 513.89 1088.00 513.95 1089.00 513.94 1090.00 513.96 1091.00 513.85 1092.00 513.89 1093.00 513.91 1094.00 514.05 1095.00 513.98 1096.00 513.97 1097.00 513.97 1098.00 513.93 1099.00 512.97 1100.00 513.93 1101.00 513.94 1102.00 514.01 1103.00 514.09 1104.00 513.95 1105.00 514.07 1106.00 514.03 1107.00 513.98 1108.00 512.93 1109.00 514.68 1110.00 514.04 1111.00 514.01 1112.00 513.99 1113.00 514.13 1114.00 514.03 1115.00 514.02 1116.00 514.07 1117.00 514.01 1118.00 514.07 1119.00 514.10 1120.00 514.20 1121.00 514.17 1122.00 514.09 1123.00 514.05 1124.00 514.19 1125.00 514.09 1126.00 514.13 1127.00 514.02 1128.00 514.17 1129.00 514.01 1130.00 513.39 1131.00 514.19 1132.00 514.10 1133.00 514.06 1134.00 514.13 1135.00 514.14 1136.00 514.21 1137.00 514.80 1138.00 514.12 1139.00 514.23 1140.00 514.24 1141.00 514.19 1142.00 514.23 1143.00 514.11 1144.00 514.16 1145.00 514.18 1146.00 514.16 1147.00 514.24 1148.00 514.21 1149.00 514.15 1150.00 514.94 1151.00 514.19 1152.00 514.21 1153.00 515.09 1154.00 514.29 1155.00 514.32 1156.00 514.19 1157.00 514.25 1158.00 514.17 1159.00 514.23 1160.00 514.30 1161.00 514.27 1162.00 514.24 1163.00 514.28 1164.00 514.31 1165.00 514.36 1166.00 514.26 1167.00 514.24 1168.00 514.27 1169.00 514.34 1170.00 514.28 1171.00 514.32 1172.00 514.18 1173.00 514.31 1174.00 514.27 1175.00 514.31 1176.00 514.25 1177.00 514.38 1178.00 514.33 1179.00 514.37 1180.00 514.99 1181.00 514.28 1182.00 513.12 1183.00 514.34 1184.00 514.30 1185.00 514.33 1186.00 514.38 1187.00 513.73 1188.00 514.40 1189.00 514.33 1190.00 514.41 1191.00 514.35 1192.00 514.43 1193.00 514.38 1194.00 514.39 1195.00 514.42 1196.00 514.46 1197.00 514.38 1198.00 514.38 1199.00 514.34 1200.00 514.46 1201.00 514.42 1202.00 514.33 1203.00 514.35 1204.00 514.39 1205.00 514.38 1206.00 514.37 1207.00 514.41 1208.00 514.50 1209.00 514.48 1210.00 515.42 1211.00 514.52 1212.00 514.49 1213.00 514.46 1214.00 514.45 1215.00 514.47 1216.00 514.47 1217.00 514.52 1218.00 514.47 1219.00 514.55 1220.00 514.60 1221.00 514.45 1222.00 514.49 1223.00 514.42 1224.00 514.51 1225.00 514.44 1226.00 514.60 1227.00 514.56 1228.00 514.58 1229.00 514.58 1230.00 514.51 1231.00 514.52 1232.00 513.74 1233.00 514.58 1234.00 514.42 1235.00 514.61 1236.00 514.51 1237.00 514.52 1238.00 514.58 1239.00 514.54 1240.00 514.54 1241.00 514.56 1242.00 514.51 1243.00 514.59 1244.00 514.53 1245.00 514.58 1246.00 514.62 1247.00 514.60 1248.00 514.56 1249.00 515.63 1250.00 514.62 1251.00 514.60 1252.00 514.76 1253.00 514.59 1254.00 514.70 1255.00 514.72 1256.00 514.65 1257.00 514.60 1258.00 514.62 1259.00 514.70 1260.00 514.59 1261.00 514.63 1262.00 514.61 1263.00 514.70 1264.00 514.70 1265.00 513.79 1266.00 514.70 1267.00 514.77 1268.00 514.65 1269.00 514.66 1270.00 514.69 1271.00 513.83 1272.00 514.75 1273.00 514.77 1274.00 514.63 1275.00 514.65 1276.00 514.72 1277.00 514.74 1278.00 514.83 1279.00 514.79 1280.00 514.81 1281.00 514.70 1282.00 514.70 1283.00 514.69 1284.00 514.74 1285.00 514.76 1286.00 514.80 1287.00 514.82 1288.00 514.69 1289.00 514.81 1290.00 514.80 1291.00 514.96 1292.00 514.83 1293.00 515.70 1294.00 514.80 1295.00 514.82 1296.00 514.83 1297.00 514.69 1298.00 514.76 1299.00 514.87 1300.00 514.86 1301.00 514.74 1302.00 514.83 1303.00 514.90 1304.00 514.89 1305.00 514.85 1306.00 514.84 1307.00 514.79 1308.00 514.90 1309.00 514.85 1310.00 514.72 1311.00 514.80 1312.00 514.89 1313.00 514.84 1314.00 514.83 1315.00 514.79 1316.00 514.95 1317.00 514.90 1318.00 514.93 1319.00 514.91 1320.00 514.85 1321.00 514.81 1322.00 514.94 1323.00 514.87 1324.00 514.94 1325.00 514.98 1326.00 514.90 1327.00 514.97 1328.00 514.88 1329.00 514.86 1330.00 514.96 1331.00 514.89 1332.00 514.94 1333.00 514.90 1334.00 515.01 1335.00 514.96 1336.00 515.00 1337.00 515.01 1338.00 514.97 1339.00 514.92 1340.00 514.98 1341.00 514.97 1342.00 514.99 1343.00 515.00 1344.00 515.03 1345.00 514.99 1346.00 515.04 1347.00 515.00 1348.00 514.99 1349.00 515.01 1350.00 515.00 1351.00 515.02 1352.00 514.99 1353.00 514.94 1354.00 514.93 1355.00 515.07 1356.00 515.07 1357.00 515.00 1358.00 515.04 1359.00 514.99 1360.00 515.09 1361.00 515.12 1362.00 514.99 1363.00 514.99 1364.00 515.13 1365.00 515.11 1366.00 515.18 1367.00 515.10 1368.00 515.08 1369.00 515.08 1370.00 515.11 1371.00 515.19 1372.00 515.04 1373.00 515.08 1374.00 515.16 1375.00 515.11 1376.00 515.21 1377.00 515.10 1378.00 515.18 1379.00 515.11 1380.00 515.16 1381.00 515.15 1382.00 515.10 1383.00 515.16 1384.00 515.18 1385.00 515.16 1386.00 515.23 1387.00 515.16 1388.00 515.20 1389.00 515.19 1390.00 515.16 1391.00 515.19 1392.00 515.15 1393.00 515.25 1394.00 515.23" fill="none" stroke="#1A66D5" stroke-width="2.85" stroke-linejoin="round" stroke-linecap="butt"/>
<path d="M205.00 457.54 206.00 457.46 207.00 456.48 208.00 457.29 209.00 457.18 210.00 457.16 211.00 457.10 212.00 457.05 213.00 456.86 214.00 456.84 215.00 456.87 216.00 456.74 217.00 456.64 218.00 456.55 219.00 456.50 220.00 455.17 221.00 456.32 222.00 456.38 223.00 456.24 224.00 456.08 225.00 456.03 226.00 456.00 227.00 455.92 228.00 455.84 229.00 455.70 230.00 455.67 231.00 455.63 232.00 455.59 233.00 455.49 234.00 455.55 235.00 455.40 236.00 456.14 237.00 455.46 238.00 455.50 239.00 455.54 240.00 455.57 241.00 455.52 242.00 455.49 243.00 454.70 244.00 455.37 245.00 455.57 246.00 455.48 247.00 455.52 248.00 454.63 249.00 455.55 250.00 456.13 251.00 455.47 252.00 456.79 253.00 455.53 254.00 456.14 255.00 455.51 256.00 455.51 257.00 455.53 258.00 455.50 259.00 455.38 260.00 455.58 261.00 455.49 262.00 455.51 263.00 455.57 264.00 455.44 265.00 456.28 266.00 455.51 267.00 454.86 268.00 455.60 269.00 455.41 270.00 455.56 271.00 455.50 272.00 454.75 273.00 455.44 274.00 455.46 275.00 455.56 276.00 455.52 277.00 455.43 278.00 455.46 279.00 455.58 280.00 454.18 281.00 455.56 282.00 454.17 283.00 454.72 284.00 455.46 285.00 455.46 286.00 456.66 287.00 455.40 288.00 454.24 289.00 455.30 290.00 455.36 291.00 455.33 292.00 455.47 293.00 455.36 294.00 456.38 295.00 455.35 296.00 455.37 297.00 455.37 298.00 455.42 299.00 455.33 300.00 456.30 301.00 455.29 302.00 455.33 303.00 455.31 304.00 455.30 305.00 455.22 306.00 455.27 307.00 455.36 308.00 455.30 309.00 455.28 310.00 455.20 311.00 455.26 312.00 456.17 313.00 455.20 314.00 455.21 315.00 455.20 316.00 455.12 317.00 455.20 318.00 454.41 319.00 455.19 320.00 455.02 321.00 455.13 322.00 455.12 323.00 455.18 324.00 455.11 325.00 455.09 326.00 456.26 327.00 455.08 328.00 455.77 329.00 455.15 330.00 455.19 331.00 455.04 332.00 454.20 333.00 455.13 334.00 455.04 335.00 454.44 336.00 455.09 337.00 455.08 338.00 454.92 339.00 454.96 340.00 455.02 341.00 455.04 342.00 455.00 343.00 454.85 344.00 454.49 345.00 454.31 346.00 453.95 347.00 453.67 348.00 453.35 349.00 452.98 350.00 452.68 351.00 452.67 352.00 452.73 353.00 452.65 354.00 452.56 355.00 452.46 356.00 452.41 357.00 452.39 358.00 452.34 359.00 452.32 360.00 452.17 361.00 453.03 362.00 452.37 363.00 453.13 363.30 452.32 363.50 452.41 363.70 452.32 363.90 452.40 364.00 452.47 364.10 452.46 364.30 452.37 364.50 451.80 364.70 448.75 364.90 441.02 365.00 435.49 365.10 429.77 365.30 420.17 365.50 415.72 365.67 415.08 365.70 415.08 365.83 415.30 365.90 415.80 366.00 417.43 366.10 420.25 366.17 423.16 366.30 429.86 366.33 431.56 366.50 441.17 366.67 448.11 366.70 448.81 366.83 445.79 366.87 444.37 366.90 442.94 367.00 438.97 367.03 437.70 367.10 435.14 367.17 433.08 367.20 432.36 367.30 430.87 367.33 430.60 367.37 430.31 367.50 430.08 367.53 430.07 367.67 430.50 367.70 430.90 367.83 433.18 367.87 434.20 367.90 435.06 368.00 438.95 368.03 440.21 368.10 443.09 368.17 445.88 368.20 445.78 368.33 443.43 368.37 442.76 368.50 441.67 368.53 441.46 368.67 441.25 368.70 441.25 368.83 441.46 368.87 441.54 369.00 442.54 369.03 442.79 369.17 445.14 369.20 445.84 369.33 448.60 369.37 449.27 369.53 451.52 369.70 452.43 369.87 452.71 370.00 452.74 370.03 452.72 370.20 452.83 370.37 452.78 370.53 452.72 371.00 452.77 372.00 452.84 373.00 452.92 374.00 452.93 375.00 454.29 376.00 452.25 377.00 453.05 378.00 453.84 379.00 452.96 380.00 453.00 381.00 454.28 382.00 453.10 383.00 453.02 384.00 452.99 385.00 453.00 386.00 452.99 387.00 453.00 388.00 453.01 389.00 453.07 390.00 452.99 391.00 453.02 392.00 453.03 393.00 452.94 394.00 451.77 395.00 452.87 396.00 453.03 397.00 453.94 398.00 453.02 399.00 453.00 400.00 452.90 401.00 453.71 402.00 452.97 403.00 452.99 403.10 452.95 403.35 453.06 403.60 452.92 403.85 453.12 404.00 452.27 404.10 453.05 404.35 452.98 404.60 452.99 404.85 452.93 405.00 452.91 405.10 452.94 405.35 452.91 405.60 452.73 405.85 452.67 406.00 452.64 406.10 452.47 406.35 452.62 406.60 452.56 406.85 452.62 407.00 452.77 407.10 452.77 407.35 452.90 407.60 452.96 407.85 452.96 408.00 453.06 408.10 452.97 408.35 452.94 408.60 453.00 408.85 453.05 409.00 452.93 409.10 453.07 409.35 453.08 410.00 453.07 411.00 453.05 412.00 453.06 413.00 451.83 414.00 451.74 415.00 452.96 416.00 452.07 417.00 452.99 418.00 452.98 419.00 453.08 420.00 452.99 421.00 452.03 422.00 453.05 423.00 453.90 424.00 453.03 425.00 452.98 426.00 453.01 427.00 452.97 428.00 453.01 429.00 453.80 430.00 453.00 431.00 451.95 432.00 452.94 433.00 453.00 434.00 453.91 434.80 453.00 434.98 452.96 435.00 452.98 435.17 452.99 435.35 453.03 435.53 452.99 435.72 452.91 435.90 452.52 436.00 451.58 436.08 450.35 436.27 444.52 436.45 436.43 436.60 430.34 436.63 429.44 436.77 426.55 436.82 426.00 436.93 425.61 437.00 425.64 437.10 425.67 437.18 426.11 437.27 427.12 437.37 429.52 437.43 431.44 437.55 436.34 437.60 438.82 437.73 444.58 437.77 446.05 437.92 446.12 437.93 445.74 438.00 442.84 438.10 438.32 438.27 432.09 438.28 431.85 438.43 429.32 438.47 429.17 438.60 428.80 438.65 428.69 438.77 429.22 438.83 429.95 438.93 432.04 439.00 434.21 439.02 434.98 439.10 438.32 439.20 442.75 439.27 445.74 439.43 450.55 439.60 452.48 439.77 452.98 439.93 452.97 440.00 453.07 440.10 453.02 440.27 452.99 440.43 453.09 441.00 452.99 442.00 452.98 442.40 452.90 442.65 453.04 442.90 452.98 443.00 451.79 443.15 453.00 443.40 453.03 443.65 452.97 443.90 453.04 444.00 453.07 444.15 453.07 444.40 453.00 444.65 452.94 444.90 453.03 445.00 453.04 445.15 452.93 445.40 452.97 445.65 453.03 445.90 452.87 446.00 452.97 446.15 453.05 446.40 453.07 446.65 452.95 446.90 452.98 447.00 452.98 447.15 453.12 447.40 453.01 447.65 453.10 447.90 453.05 448.00 453.07 448.15 452.95 448.40 453.07 448.65 453.07 448.90 453.05 449.00 453.05 449.15 453.05 449.40 452.22 449.65 447.89 449.90 441.47 450.00 439.35 450.15 437.10 450.17 436.84 450.33 435.36 450.40 434.99 450.50 434.63 450.65 434.25 450.67 434.15 450.83 434.11 450.90 434.13 451.00 434.09 451.15 430.91 451.17 426.85 451.33 375.24 451.40 343.95 451.50 295.82 451.55 273.12 451.65 234.80 451.67 228.64 451.70 220.40 451.83 198.91 451.85 197.34 451.90 194.83 452.00 193.86 452.15 197.40 452.17 198.93 452.30 220.54 452.33 228.62 452.40 252.46 452.45 273.09 452.50 295.95 452.60 343.97 452.65 366.80 452.67 363.33 452.75 329.83 452.83 299.01 452.90 277.69 453.00 258.41 453.05 253.37 453.15 249.88 453.17 249.76 453.20 249.67 453.33 252.27 453.35 253.42 453.40 258.45 453.50 277.76 453.65 329.78 453.67 338.17 453.80 391.06 453.83 401.75 453.90 422.29 453.95 433.34 454.00 434.32 454.10 434.34 454.15 434.42 454.25 434.60 454.40 435.15 454.55 436.22 454.65 437.24 454.70 438.01 454.85 440.69 454.90 441.83 455.00 444.28 455.15 448.22 455.40 452.59 455.65 453.47 455.80 453.44 455.90 453.51 456.00 454.53 456.03 453.50 456.15 453.56 456.27 453.47 456.40 453.57 456.50 453.57 456.65 453.52 456.73 453.48 456.90 453.55 456.97 453.54 457.00 453.54 457.15 453.41 457.20 453.27 457.40 452.92 457.43 452.76 457.65 451.27 457.67 451.10 457.90 448.79 458.00 447.79 458.13 446.86 458.15 446.83 458.37 445.88 458.40 445.91 458.60 445.83 458.65 445.81 458.83 445.97 458.90 446.06 459.00 446.57 459.07 446.87 459.15 447.49 459.30 448.80 459.40 449.93 459.53 451.27 459.65 452.18 459.77 452.88 459.90 453.34 460.00 453.53 460.15 453.68 460.23 453.66 460.40 453.65 460.47 453.70 460.65 453.75 460.70 453.67 460.90 453.72 460.93 453.80 461.00 453.68 461.15 453.66 461.17 453.71 461.40 453.69 461.65 453.69 461.90 453.77 462.00 453.76 462.15 453.77 462.20 453.81 462.37 453.88 462.40 453.86 462.53 453.80 462.70 453.76 462.87 453.84 463.00 453.90 463.03 453.77 463.20 453.65 463.37 452.86 463.53 450.51 463.70 447.15 463.80 445.32 463.87 444.31 463.98 443.30 464.00 443.17 464.03 442.98 464.17 442.84 464.20 442.75 464.35 442.94 464.37 443.00 464.53 444.31 464.70 447.22 464.72 447.59 464.87 450.55 464.90 451.06 465.00 452.55 465.03 452.74 465.08 452.15 465.20 449.95 465.27 448.15 465.37 445.19 465.45 442.64 465.53 440.27 465.60 438.68 465.63 437.92 465.70 436.82 465.77 436.11 465.82 435.72 465.87 435.54 465.93 435.43 466.00 435.38 466.03 435.42 466.10 435.46 466.18 435.77 466.27 436.55 466.37 438.02 466.43 439.38 466.55 442.82 466.60 444.31 466.73 448.27 466.77 449.33 466.92 450.50 466.93 450.19 467.00 448.74 467.10 446.41 467.27 443.09 467.28 443.00 467.43 441.67 467.47 441.60 467.60 441.44 467.65 441.48 467.77 441.72 467.83 442.14 467.93 443.20 468.00 444.33 468.02 444.71 468.10 446.51 468.20 448.82 468.27 450.39 468.43 452.87 468.60 453.94 468.77 454.15 468.93 454.15 469.00 455.17 469.10 454.15 469.27 454.18 469.43 454.19 470.00 454.31 471.00 454.30 472.00 454.27 473.00 454.41 474.00 454.44 475.00 454.48 476.00 454.63 477.00 454.60 478.00 454.61 479.00 454.51 480.00 454.65 481.00 454.68 482.00 454.73 483.00 454.74 484.00 454.81 485.00 454.69 486.00 454.81 487.00 454.86 488.00 454.87 489.00 454.82 490.00 454.91 491.00 454.90 492.00 455.02 493.00 455.01 494.00 454.94 495.00 455.96 496.00 455.00 496.90 455.13 497.00 455.19 497.10 455.01 497.30 455.11 497.50 455.07 497.70 455.09 497.90 455.22 498.00 455.18 498.10 455.15 498.30 454.84 498.50 454.10 498.70 453.11 498.90 452.22 499.00 451.99 499.10 451.94 499.30 451.81 499.50 451.86 499.70 452.19 499.90 453.25 500.00 453.66 500.10 454.09 500.30 454.84 500.50 455.19 500.70 455.14 500.90 455.15 501.00 455.28 501.10 455.28 501.30 455.26 501.50 455.27 501.70 455.19 502.00 455.21 503.00 454.39 504.00 455.25 505.00 455.29 506.00 455.31 507.00 455.97 508.00 455.38 509.00 456.42 510.00 455.39 511.00 455.39 512.00 455.32 512.10 455.28 512.30 455.23 512.50 455.29 512.70 455.43 512.90 455.35 513.00 455.39 513.10 455.36 513.30 455.26 513.50 455.05 513.70 454.59 513.90 453.72 514.00 453.22 514.10 452.94 514.30 452.65 514.50 452.53 514.70 452.68 514.90 452.89 515.00 453.35 515.10 453.75 515.30 454.52 515.50 455.08 515.70 455.34 515.90 455.26 516.00 454.53 516.10 455.44 516.30 455.41 516.50 455.35 516.70 455.38 516.90 455.48 517.00 455.35 518.00 455.43 519.00 455.37 520.00 455.54 521.00 455.42 522.00 455.42 523.00 455.50 524.00 455.51 525.00 456.41 526.00 455.45 527.00 455.51 528.00 455.62 529.00 455.58 530.00 455.58 531.00 455.67 532.00 455.74 533.00 455.63 534.00 455.70 535.00 455.78 536.00 456.94 537.00 455.74 538.00 455.84 539.00 455.77 540.00 455.81 541.00 456.07 542.00 455.92 543.00 455.94 544.00 455.98 545.00 455.98 546.00 455.99 547.00 456.07 548.00 457.06 549.00 456.02 550.00 456.08 551.00 456.14 552.00 456.25 553.00 456.14 554.00 456.26 555.00 456.12 556.00 455.91 557.00 455.74 558.00 456.82 559.00 455.51 560.00 455.44 561.00 455.18 562.00 455.17 563.00 454.98 564.00 454.81 565.00 454.73 566.00 454.48 567.00 454.37 568.00 454.38 569.00 454.10 570.00 454.03 571.00 453.97 572.00 453.96 573.00 453.92 574.00 454.06 575.00 454.06 576.00 453.96 577.00 454.09 578.00 453.95 579.00 453.97 580.00 455.25 581.00 454.05 582.00 454.01 583.00 454.01 584.00 454.02 585.00 453.94 586.00 454.00 587.00 453.95 588.00 454.02 589.00 453.99 590.00 454.01 591.00 454.02 592.00 453.98 593.00 454.04 594.00 453.99 595.00 453.98 596.00 454.07 597.00 453.98 597.10 454.06 597.28 453.95 597.47 453.98 597.65 453.92 597.83 453.95 598.00 453.95 598.02 453.98 598.10 453.87 598.20 453.42 598.30 452.52 598.38 451.00 598.50 447.50 598.57 444.65 598.70 438.25 598.75 435.66 598.90 429.09 598.93 428.02 599.00 426.22 599.10 424.54 599.12 424.38 599.30 423.84 599.48 424.33 599.50 424.58 599.67 428.09 599.70 429.11 599.85 435.72 599.90 438.30 600.00 443.29 600.03 443.97 600.10 443.01 600.22 442.01 600.30 441.57 600.40 441.38 600.50 441.27 600.58 441.32 600.70 441.61 600.77 441.86 600.90 443.02 600.95 443.75 601.00 444.61 601.10 446.33 601.13 446.97 601.30 450.20 601.32 450.54 601.50 452.85 601.70 453.80 601.90 454.23 602.00 454.09 602.10 454.12 602.30 454.22 602.50 454.18 602.70 454.23 602.90 454.23 603.00 454.25 604.00 454.36 605.00 454.41 606.00 454.45 607.00 455.23 608.00 454.58 609.00 455.33 610.00 454.72 611.00 454.15 612.00 454.99 613.00 456.10 614.00 455.08 615.00 455.11 616.00 455.23 617.00 455.23 618.00 455.33 619.00 455.42 620.00 455.58 621.00 455.49 622.00 455.55 623.00 455.49 624.00 455.50 625.00 455.52 626.00 455.57 627.00 455.48 628.00 455.55 629.00 455.55 630.00 455.46 631.00 455.55 632.00 455.54 633.00 455.56 634.00 455.48 635.00 455.53 636.00 455.48 637.00 455.55 638.00 456.40 639.00 455.53 639.40 455.46 639.60 455.56 639.80 455.56 640.00 455.48 640.20 455.55 640.40 455.51 640.60 455.48 640.80 454.95 641.00 453.82 641.20 452.28 641.40 450.86 641.60 450.26 641.80 450.11 642.00 450.17 642.20 450.75 642.40 452.22 642.60 453.94 642.80 454.99 643.00 455.41 643.20 455.59 643.40 455.59 643.60 455.56 643.80 455.58 644.00 455.57 644.20 455.52 645.00 455.52 646.00 455.48 647.00 456.71 648.00 455.55 649.00 455.54 650.00 455.57 651.00 456.79 652.00 455.61 652.10 455.53 652.30 455.59 652.50 455.57 652.70 455.64 652.90 455.53 653.00 455.62 653.10 455.60 653.30 455.56 653.50 455.34 653.70 454.73 653.90 453.95 654.00 453.78 654.10 453.48 654.30 453.16 654.50 453.05 654.70 453.17 654.90 453.40 655.00 453.86 655.10 454.05 655.30 454.86 655.50 455.29 655.70 455.47 655.90 455.56 656.00 455.58 656.10 455.51 656.30 455.50 656.50 455.62 656.70 455.55 656.90 455.55 657.00 455.58 658.00 455.53 659.00 455.54 660.00 456.35 661.00 455.49 661.50 455.47 661.73 455.59 661.97 455.57 662.00 455.48 662.20 455.59 662.43 455.60 662.67 455.54 662.90 455.47 663.00 455.42 663.13 455.11 663.37 453.96 663.60 452.30 663.83 450.94 664.00 450.35 664.07 450.15 664.30 450.08 664.53 450.09 664.77 450.86 665.00 452.21 665.23 453.75 665.47 455.09 665.70 455.43 665.93 455.55 666.00 456.25 666.17 455.51 666.40 455.57 666.63 455.61 666.87 455.54 667.00 455.62 668.00 455.58 669.00 455.58 670.00 455.59 671.00 455.59 672.00 455.53 673.00 455.51 674.00 455.67 675.00 455.50 676.00 456.74 677.00 454.49 678.00 455.66 679.00 455.65 680.00 455.58 681.00 455.56 682.00 455.55 683.00 456.75 683.90 455.53 684.00 455.62 684.10 455.54 684.30 455.58 684.50 455.59 684.70 455.65 684.90 455.63 685.00 454.72 685.10 455.55 685.30 454.94 685.50 453.33 685.70 451.11 685.90 449.17 686.00 448.58 686.10 448.18 686.30 448.18 686.50 448.23 686.70 449.05 686.90 451.10 687.00 452.23 687.10 451.95 687.30 451.36 687.50 451.34 687.70 451.36 687.90 451.87 688.00 452.38 688.10 453.02 688.30 454.33 688.50 455.19 688.70 455.54 688.90 455.57 689.00 455.58 689.10 455.61 689.30 455.57 689.50 455.65 689.70 455.58 689.90 455.57 690.00 455.63 691.00 455.60 692.00 455.62 693.00 455.58 694.00 456.39 695.00 456.29 696.00 455.60 697.00 456.45 698.00 455.72 699.00 455.59 700.00 455.64 701.00 455.70 702.00 455.65 703.00 455.70 704.00 456.75 705.00 455.56 706.00 454.89 707.00 454.76 708.00 454.76 709.00 455.63 710.00 455.55 711.00 455.64 712.00 455.63 713.00 455.66 714.00 455.70 715.00 455.71 716.00 456.47 717.00 455.61 718.00 456.47 719.00 455.77 720.00 455.65 721.00 455.70 722.00 455.72 723.00 455.64 724.00 455.68 725.00 455.67 726.00 455.56 727.00 455.67 728.00 456.36 729.00 454.81 730.00 455.74 731.00 455.68 732.00 456.60 732.30 455.60 732.55 455.64 732.80 455.75 733.00 455.74 733.05 455.66 733.30 455.64 733.55 455.75 733.80 455.77 734.00 455.59 734.05 455.62 734.30 455.44 734.55 455.16 734.80 454.77 735.00 454.49 735.05 454.32 735.30 454.29 735.55 454.39 735.80 454.30 736.00 454.48 736.05 454.49 736.30 454.86 736.55 455.23 736.80 455.50 737.00 455.65 737.05 455.71 737.30 455.62 737.55 455.71 737.80 455.66 738.00 455.74 738.05 455.72 738.30 455.66 738.55 455.66 739.00 455.60 740.00 454.88 741.00 455.66 742.00 455.78 743.00 455.74 744.00 455.67 745.00 455.76 746.00 455.70 747.00 455.68 748.00 455.75 749.00 455.66 750.00 455.68 751.00 455.66 752.00 455.72 753.00 455.70 754.00 455.73 755.00 455.74 756.00 455.71 757.00 455.65 758.00 455.84 759.00 455.67 760.00 455.76 761.00 455.75 762.00 455.84 763.00 455.76 764.00 454.63 765.00 455.71 766.00 455.73 767.00 455.69 768.00 455.78 769.00 455.70 770.00 455.75 771.00 455.79 772.00 455.74 773.00 455.75 774.00 456.48 775.00 454.89 776.00 455.82 777.00 455.73 778.00 455.69 779.00 455.79 780.00 456.67 781.00 455.85 782.00 455.69 783.00 457.04 784.00 455.71 785.00 456.58 786.00 455.76 787.00 455.72 788.00 455.83 789.00 455.74 790.00 455.86 791.00 455.82 792.00 455.76 793.00 455.74 794.00 455.79 795.00 455.81 796.00 455.84 797.00 455.77 798.00 456.73 799.00 455.84 799.10 455.75 799.28 455.82 799.47 455.80 799.65 455.78 799.83 455.71 800.00 456.97 800.02 455.77 800.20 455.11 800.38 451.87 800.57 443.13 800.60 441.26 800.75 431.05 800.77 429.78 800.93 420.84 801.00 418.22 801.10 416.09 801.12 415.79 801.27 415.14 801.30 415.13 801.43 415.36 801.48 415.76 801.50 416.11 801.60 418.35 801.67 420.89 801.77 426.07 801.83 429.79 801.85 431.17 801.93 436.63 802.00 441.35 802.03 443.21 802.10 445.55 802.17 443.45 802.22 442.20 802.27 441.07 802.33 440.07 802.40 439.32 802.43 439.15 802.50 438.89 802.58 438.80 802.60 438.86 802.67 438.83 802.77 439.20 802.83 439.63 802.93 441.10 802.95 441.50 803.00 442.76 803.10 445.61 803.13 446.53 803.17 446.77 803.27 445.82 803.32 445.45 803.33 445.56 803.43 445.29 803.50 445.21 803.60 445.29 803.67 445.45 803.77 446.10 803.83 446.73 803.93 448.26 804.00 449.50 804.10 451.43 804.17 452.80 804.27 454.23 804.33 454.88 804.43 455.51 804.50 455.78 804.67 456.07 804.83 455.97 805.00 456.06 805.17 456.00 805.33 456.00 806.00 456.06 806.80 456.11 807.00 456.08 807.05 456.07 807.30 456.12 807.55 456.14 807.80 456.13 808.00 455.08 808.05 456.12 808.30 456.10 808.55 456.05 808.80 455.77 809.00 455.42 809.05 455.31 809.30 454.79 809.55 454.50 809.80 454.33 810.00 454.36 810.05 454.29 810.30 454.36 810.55 454.64 810.80 455.06 811.00 456.57 811.05 455.61 811.30 456.08 811.55 456.21 811.80 456.36 812.00 456.30 812.05 456.26 812.30 456.34 812.55 456.34 812.80 456.31 813.00 456.28 813.05 456.27 814.00 456.27 815.00 456.45 816.00 456.37 817.00 456.53 818.00 456.53 819.00 456.65 820.00 456.59 821.00 456.54 822.00 456.67 823.00 456.74 824.00 456.77 825.00 457.66 826.00 456.91 827.00 456.78 828.00 456.89 829.00 456.99 830.00 456.99 831.00 456.97 832.00 457.04 833.00 457.04 834.00 457.00 835.00 456.97 836.00 458.03 837.00 456.96 838.00 456.97 839.00 456.97 840.00 458.12 841.00 457.06 842.00 457.04 843.00 457.12 844.00 457.05 845.00 457.04 846.00 457.04 847.00 457.90 848.00 457.13 849.00 457.04 850.00 457.03 851.00 456.05 852.00 456.97 853.00 457.04 854.00 456.00 855.00 456.93 856.00 457.02 857.00 457.01 858.00 457.06 859.00 458.15 860.00 457.21 861.00 457.02 862.00 457.14 863.00 457.12 864.00 457.12 865.00 457.07 866.00 456.38 867.00 457.06 868.00 456.05 868.40 457.15 868.60 456.98 868.80 457.08 869.00 457.11 869.20 457.11 869.40 457.07 869.60 456.90 869.80 456.49 870.00 455.28 870.20 453.57 870.40 452.10 870.60 451.47 870.80 451.26 871.00 451.38 871.20 452.16 871.40 453.65 871.60 455.40 871.80 456.52 872.00 456.07 872.20 457.13 872.40 457.13 872.60 457.05 872.80 457.07 873.00 457.10 873.20 457.14 874.00 457.02 875.00 457.11 876.00 457.11 877.00 457.11 878.00 457.75 879.00 457.11 880.00 457.12 881.00 457.11 882.00 457.10 883.00 457.12 884.00 457.09 885.00 457.11 886.00 457.10 887.00 457.13 888.00 457.18 889.00 457.08 890.00 458.29 891.00 457.05 892.00 457.13 893.00 457.15 894.00 457.22 895.00 457.19 896.00 457.26 897.00 457.21 898.00 458.30 899.00 457.19 900.00 457.07 901.00 457.19 902.00 457.14 903.00 455.94 904.00 457.18 905.00 457.11 906.00 457.15 907.00 457.26 908.00 457.98 909.00 457.18 910.00 458.44 911.00 458.33 912.00 457.09 913.00 457.21 914.00 457.16 915.00 457.15 916.00 457.18 917.00 457.18 918.00 457.26 919.00 457.19 920.00 457.18 921.00 457.12 922.00 457.22 923.00 457.20 924.00 457.21 925.00 457.95 925.90 457.22 926.00 458.30 926.15 457.23 926.40 457.24 926.65 457.13 926.90 457.22 927.00 458.47 927.15 457.32 927.40 457.22 927.65 457.19 927.90 456.98 928.00 456.87 928.15 456.43 928.40 455.70 928.65 454.78 928.90 453.74 929.00 453.65 929.15 453.46 929.40 453.23 929.65 453.29 929.90 453.42 930.00 453.60 930.15 453.99 930.40 454.83 930.65 455.86 930.90 456.64 931.00 456.84 931.15 457.01 931.40 457.16 931.65 457.19 931.90 457.27 932.00 457.32 932.15 457.21 932.40 457.27 932.65 457.31 932.90 457.22 933.00 457.32 934.00 457.23 935.00 457.25 936.00 457.35 937.00 456.15 938.00 457.35 939.00 457.27 940.00 457.28 941.00 457.26 942.00 458.13 943.00 457.34 944.00 456.29 944.60 457.25 944.80 457.17 945.00 457.27 945.20 457.24 945.40 457.23 945.60 457.23 945.80 457.10 946.00 456.50 946.10 455.89 946.20 455.03 946.30 454.02 946.40 452.93 946.50 451.89 946.60 451.20 946.70 450.50 946.80 450.24 946.90 450.13 947.00 450.00 947.10 450.14 947.20 450.28 947.30 450.63 947.40 451.16 947.50 451.92 947.60 452.90 947.70 454.02 947.80 455.05 947.90 454.88 948.00 454.28 948.10 453.91 948.20 453.60 948.30 453.33 948.40 453.32 948.50 453.38 948.60 453.28 948.70 453.36 948.80 453.58 948.90 453.82 949.00 454.26 949.10 454.88 949.20 455.44 949.30 456.18 949.40 456.57 949.50 456.93 949.70 457.20 949.90 457.30 950.00 457.26 950.10 457.29 950.30 457.33 950.50 457.20 950.70 457.31 950.90 457.19 951.00 457.44 952.00 457.29 953.00 458.15 954.00 456.39 955.00 456.14 956.00 457.23 957.00 457.27 958.00 457.28 959.00 457.25 960.00 457.30 961.00 457.40 962.00 457.25 963.00 456.45 964.00 457.36 965.00 457.33 966.00 457.39 967.00 457.27 968.00 457.29 969.00 457.33 970.00 457.41 971.00 456.06 972.00 457.37 973.00 457.39 974.00 457.31 975.00 457.31 976.00 457.31 977.00 457.33 978.00 457.39 979.00 457.25 980.00 458.42 981.00 457.37 982.00 456.60 983.00 457.31 984.00 457.25 985.00 457.41 986.00 458.58 987.00 457.29 988.00 457.34 989.00 457.31 990.00 458.33 991.00 457.31 992.00 457.41 993.00 457.38 994.00 457.42 995.00 457.39 996.00 457.37 997.00 457.50 998.00 458.69 998.25 457.29 998.50 457.39 998.75 457.47 999.00 456.76 999.25 457.38 999.50 457.39 999.75 457.40 1000.00 457.37 1000.25 457.36 1000.50 457.41 1000.75 457.34 1001.00 458.25 1001.25 457.43 1001.50 457.36 1001.75 457.33 1002.00 457.36 1002.25 457.43 1002.50 457.42 1002.75 457.38 1003.00 457.35 1003.25 457.41 1003.50 457.38 1003.75 457.42 1004.00 457.36 1004.25 457.37 1004.50 457.32 1004.75 457.07 1005.00 456.74 1005.25 456.24 1005.50 455.66 1005.75 455.19 1006.00 454.85 1006.25 454.76 1006.50 454.48 1006.75 454.55 1007.00 454.47 1007.25 454.55 1007.50 454.49 1007.75 454.55 1008.00 454.46 1008.25 454.42 1008.50 454.54 1008.75 454.50 1009.00 454.46 1009.25 454.51 1009.50 454.60 1009.75 454.69 1010.00 454.87 1010.25 455.23 1010.50 455.67 1010.75 456.22 1011.00 456.79 1011.25 457.18 1011.50 457.44 1011.75 457.47 1012.00 457.39 1012.25 457.52 1012.50 457.56 1012.75 457.46 1013.00 457.45 1013.25 457.36 1013.50 457.46 1013.75 457.48 1014.00 458.18 1014.25 457.46 1014.50 457.39 1014.75 457.50 1015.00 457.43 1015.25 457.38 1015.50 457.55 1015.75 457.38 1016.00 457.48 1016.25 457.45 1016.50 457.46 1016.75 457.39 1017.00 457.37 1017.25 457.37 1017.50 457.42 1017.75 457.44 1018.00 457.36 1019.00 457.43 1020.00 457.35 1021.00 457.40 1022.00 457.43 1023.00 457.44 1024.00 456.41 1025.00 457.41 1026.00 457.45 1027.00 457.48 1028.00 457.47 1029.00 457.50 1030.00 457.40 1031.00 457.54 1032.00 456.21 1033.00 457.46 1034.00 457.52 1035.00 457.51 1036.00 457.57 1037.00 457.46 1038.00 457.51 1039.00 457.51 1040.00 457.45 1041.00 457.49 1042.00 457.36 1043.00 457.61 1044.00 457.46 1044.30 457.48 1044.55 457.48 1044.80 457.57 1045.00 457.50 1045.05 457.54 1045.30 457.56 1045.55 457.48 1045.80 457.55 1046.00 457.44 1046.05 457.48 1046.30 457.43 1046.55 457.50 1046.80 457.48 1047.00 457.38 1047.05 457.45 1047.30 457.49 1047.55 457.52 1047.80 457.48 1048.00 458.44 1048.05 457.58 1048.30 457.52 1048.55 457.49 1048.80 457.50 1049.00 457.50 1049.05 457.52 1049.30 457.49 1049.55 457.54 1049.80 457.50 1050.00 458.58 1050.05 457.50 1050.30 457.44 1050.55 457.53 1050.80 457.54 1051.00 457.42 1051.05 457.49 1051.30 457.46 1051.55 457.52 1051.80 457.52 1052.00 457.46 1052.05 457.53 1052.30 457.55 1052.55 457.49 1052.80 457.53 1053.00 456.59 1053.05 457.57 1053.30 457.58 1053.55 457.37 1053.80 457.47 1054.00 456.28 1054.05 457.50 1054.30 457.57 1054.55 457.55 1054.80 457.55 1055.00 457.57 1055.05 457.61 1055.30 457.50 1055.55 457.52 1055.80 457.49 1056.00 457.54 1056.05 457.50 1056.30 457.68 1056.55 457.48 1056.80 457.46 1057.00 457.50 1057.05 457.56 1057.30 457.57 1057.55 457.60 1057.80 457.59 1058.00 457.49 1058.05 457.51 1058.30 457.48 1058.55 457.48 1058.80 457.53 1059.00 456.67 1059.05 457.43 1059.20 457.42 1059.30 457.40 1059.40 457.44 1059.55 457.39 1059.60 457.34 1059.80 457.30 1060.00 457.03 1060.05 456.93 1060.20 456.69 1060.30 456.31 1060.40 455.62 1060.55 454.14 1060.60 453.62 1060.80 451.95 1061.00 451.23 1061.05 451.15 1061.20 451.13 1061.30 451.15 1061.40 451.28 1061.55 451.73 1061.60 451.95 1061.80 453.58 1062.00 455.29 1062.05 455.17 1062.20 455.20 1062.30 455.23 1062.40 455.07 1062.55 455.14 1062.60 455.10 1062.80 455.11 1063.00 455.13 1063.05 455.15 1063.20 455.14 1063.30 455.05 1063.40 455.09 1063.55 455.02 1063.60 455.18 1063.80 455.04 1064.00 455.10 1064.05 455.06 1064.30 455.06 1064.55 455.08 1064.80 455.06 1065.00 455.10 1065.05 455.02 1065.30 455.08 1065.55 455.10 1065.80 455.05 1066.00 455.14 1066.05 455.11 1066.30 455.14 1066.55 455.07 1066.80 455.08 1067.00 455.12 1067.05 455.07 1067.30 455.14 1067.55 455.15 1067.80 455.09 1068.00 455.13 1068.05 455.08 1068.30 455.08 1068.55 455.05 1068.80 455.09 1068.90 455.16 1069.00 455.05 1069.05 455.12 1069.10 455.13 1069.30 455.20 1069.50 455.06 1069.55 455.10 1069.70 455.18 1069.80 455.18 1069.90 455.16 1070.00 455.11 1070.05 455.17 1070.10 455.13 1070.30 455.31 1070.50 455.15 1070.55 455.19 1070.70 453.64 1070.80 452.69 1070.90 451.94 1071.00 451.54 1071.05 451.29 1071.10 451.30 1071.30 451.08 1071.50 451.18 1071.55 451.28 1071.70 451.98 1071.80 452.68 1071.90 453.66 1072.00 454.63 1072.05 455.03 1072.10 455.58 1072.30 456.62 1072.50 456.93 1072.55 457.00 1072.70 457.04 1072.80 457.19 1072.90 457.35 1073.00 457.38 1073.05 457.38 1073.10 457.30 1073.30 457.42 1073.50 457.64 1073.55 457.53 1073.70 457.61 1073.80 457.46 1074.00 457.50 1074.05 457.59 1074.30 457.50 1074.55 457.53 1074.80 457.57 1075.00 457.52 1075.05 457.61 1075.30 457.58 1075.55 457.54 1075.80 457.57 1076.00 457.51 1076.05 457.64 1076.30 457.65 1076.55 457.52 1076.80 457.60 1077.00 456.42 1077.05 457.59 1077.30 457.56 1077.55 457.63 1077.80 457.52 1078.00 457.49 1078.05 457.52 1078.30 457.60 1078.55 457.57 1078.80 457.57 1079.00 456.89 1079.05 457.59 1079.30 457.57 1079.55 457.67 1079.80 457.57 1080.00 457.40 1080.05 457.58 1080.30 457.62 1080.55 457.61 1080.80 457.55 1081.00 457.80 1081.05 457.52 1081.30 457.61 1081.55 457.56 1081.80 457.61 1082.00 457.33 1082.05 457.68 1082.30 457.59 1082.55 457.53 1082.80 457.54 1083.00 457.89 1083.05 457.51 1083.30 457.51 1083.55 457.61 1083.80 457.57 1084.00 457.35 1084.05 457.57 1084.30 457.64 1084.55 457.59 1084.80 457.52 1085.00 456.74 1085.05 457.52 1085.30 457.57 1085.55 457.59 1085.80 457.62 1086.00 457.19 1086.05 457.63 1086.30 457.66 1086.55 457.60 1086.80 457.60 1087.00 458.02 1087.05 457.55 1087.30 457.58 1087.55 457.63 1087.80 457.61 1088.00 457.22 1088.05 457.60 1088.30 457.63 1089.00 457.97 1090.00 456.30 1091.00 458.09 1092.00 456.46 1093.00 458.03 1094.00 457.20 1095.00 458.11 1096.00 457.10 1097.00 458.00 1098.00 457.10 1099.00 458.11 1100.00 457.20 1101.00 457.99 1102.00 456.01 1103.00 458.78 1104.00 457.23 1105.00 458.17 1106.00 457.17 1107.00 458.09 1108.00 457.10 1109.00 458.08 1110.00 457.20 1111.00 458.07 1112.00 457.22 1113.00 458.03 1114.00 457.17 1115.00 458.16 1116.00 457.19 1117.00 458.14 1118.00 457.18 1119.00 457.12 1120.00 458.07 1121.00 458.01 1122.00 457.29 1123.00 457.42 1124.00 457.28 1125.00 458.18 1126.00 457.30 1127.00 458.11 1128.00 457.24 1129.00 458.19 1130.00 457.26 1131.00 458.14 1132.00 457.33 1133.00 458.14 1134.00 457.21 1135.00 458.15 1136.00 457.27 1137.00 457.54 1138.00 457.31 1139.00 458.09 1140.00 457.33 1141.00 459.30 1142.00 458.56 1143.00 458.22 1144.00 457.33 1145.00 458.17 1146.00 457.34 1147.00 458.21 1148.00 457.34 1149.00 458.11 1150.00 457.35 1151.00 458.20 1152.00 457.35 1153.00 458.15 1154.00 457.34 1155.00 459.13 1156.00 457.31 1157.00 458.19 1158.00 457.37 1159.00 458.24 1160.00 457.27 1161.00 458.21 1162.00 458.53 1163.00 458.23 1164.00 458.44 1165.00 458.24 1166.00 457.32 1167.00 458.27 1168.00 457.36 1169.00 458.24 1170.00 457.42 1171.00 458.22 1172.00 457.32 1173.00 458.20 1174.00 457.41 1175.00 458.20 1176.00 457.45 1177.00 458.26 1178.00 457.33 1179.00 458.25 1180.00 457.34 1181.00 458.20 1182.00 457.38 1183.00 458.29 1184.00 456.09 1185.00 458.31 1186.00 457.33 1187.00 458.21 1188.00 457.36 1189.00 458.26 1190.00 457.39 1191.00 458.24 1192.00 457.37 1193.00 458.22 1194.00 457.39 1195.00 457.10 1196.00 457.32 1197.00 458.30 1198.00 457.49 1199.00 458.31 1200.00 457.42 1201.00 458.36 1202.00 457.36 1203.00 458.30 1204.00 457.38 1205.00 458.29 1206.00 457.48 1206.80 457.79 1207.00 458.29 1207.05 457.86 1207.30 457.81 1207.55 457.95 1207.80 457.91 1208.00 457.45 1208.05 457.87 1208.30 457.88 1208.55 457.85 1208.80 457.43 1209.00 457.62 1209.05 456.96 1209.30 456.31 1209.55 456.01 1209.80 455.70 1210.00 455.79 1210.05 455.80 1210.30 455.94 1210.55 456.02 1210.80 456.54 1211.00 457.51 1211.05 457.20 1211.30 457.62 1211.55 457.81 1211.80 457.85 1212.00 457.46 1212.05 457.84 1212.30 457.88 1212.55 457.74 1212.80 457.93 1213.00 458.26 1213.05 457.99 1214.00 456.58 1215.00 457.58 1216.00 457.45 1217.00 458.38 1218.00 457.43 1219.00 458.43 1220.00 457.57 1221.00 458.34 1222.00 457.41 1223.00 458.28 1224.00 457.49 1225.00 458.35 1226.00 457.41 1227.00 458.39 1228.00 457.45 1229.00 458.39 1230.00 457.43 1231.00 458.48 1232.00 457.51 1233.00 458.42 1234.00 457.49 1235.00 458.37 1236.00 457.48 1237.00 458.41 1238.00 457.48 1239.00 458.40 1240.00 457.59 1241.00 457.34 1242.00 457.57 1243.00 459.68 1244.00 457.56 1245.00 458.42 1246.00 456.67 1247.00 458.43 1248.00 457.46 1249.00 458.40 1250.00 457.52 1251.00 458.49 1252.00 457.55 1253.00 458.52 1254.00 458.13 1255.00 458.43 1256.00 458.79 1257.00 458.48 1258.00 457.53 1259.00 457.78 1260.00 457.48 1261.00 457.62 1262.00 457.56 1263.00 458.50 1264.00 457.39 1265.00 458.50 1266.00 457.62 1267.00 458.48 1268.00 457.60 1269.00 458.43 1270.00 458.32 1271.00 458.48 1272.00 457.56 1273.00 458.40 1274.00 457.55 1275.00 458.47 1276.00 457.52 1277.00 458.54 1278.00 457.53 1279.00 458.50 1280.00 457.54 1281.00 458.41 1282.00 457.55 1283.00 458.41 1284.00 457.53 1285.00 458.43 1286.00 458.86 1287.00 458.55 1288.00 457.69 1289.00 458.45 1290.00 456.62 1291.00 457.59 1292.00 457.63 1293.00 458.49 1294.00 457.59 1295.00 459.69 1296.00 458.38 1297.00 458.50 1298.00 457.66 1299.00 458.56 1299.60 458.07 1299.80 458.15 1300.00 457.59 1300.20 458.00 1300.40 458.17 1300.60 458.09 1300.80 458.09 1301.00 458.21 1301.20 456.85 1301.40 455.63 1301.60 454.73 1301.80 454.24 1302.00 454.23 1302.20 454.24 1302.40 454.75 1302.60 455.78 1302.80 456.82 1303.00 458.13 1303.20 458.02 1303.40 458.03 1303.60 458.09 1303.80 458.00 1304.00 457.57 1304.20 458.06 1304.40 458.17 1305.00 458.59 1306.00 458.63 1307.00 459.71 1308.00 457.67 1309.00 457.68 1310.00 457.56 1311.00 458.53 1312.00 457.70 1313.00 458.56 1314.00 458.77 1315.00 458.51 1316.00 457.72 1317.00 458.65 1318.00 458.51 1319.00 458.59 1320.00 457.65 1321.00 458.63 1322.00 457.63 1323.00 458.56 1324.00 457.75 1325.00 458.64 1326.00 457.71 1327.00 458.68 1328.00 457.70 1329.00 458.65 1330.00 457.69 1331.00 458.72 1332.00 457.69 1333.00 458.50 1334.00 457.67 1335.00 458.70 1336.00 457.71 1337.00 458.59 1338.00 457.65 1339.00 457.81 1340.00 457.71 1341.00 458.67 1342.00 457.82 1343.00 458.61 1344.00 457.63 1345.00 458.66 1346.00 457.75 1347.00 458.56 1348.00 457.71 1349.00 458.59 1350.00 457.76 1351.00 459.42 1352.00 457.78 1353.00 458.62 1354.00 457.77 1355.00 458.63 1356.00 457.67 1357.00 457.78 1358.00 457.77 1359.00 458.64 1360.00 457.83 1361.00 458.67 1362.00 457.81 1363.00 459.34 1364.00 457.77 1365.00 458.65 1366.00 457.72 1367.00 458.64 1368.00 457.76 1369.00 458.66 1370.00 459.06 1371.00 459.55 1372.00 457.88 1373.00 459.86 1374.00 457.85 1375.00 458.79 1376.00 457.80 1377.00 458.71 1378.00 457.83 1379.00 458.77 1380.00 457.72 1381.00 458.70 1382.00 457.88 1383.00 458.78 1384.00 457.88 1385.00 459.68 1386.00 457.90 1387.00 458.79 1388.00 457.81 1389.00 458.75 1390.00 457.86 1391.00 458.71 1392.00 457.89 1393.00 458.76 1394.00 457.85" fill="none" stroke="#37AA69" stroke-width="2.85" stroke-linejoin="round" stroke-linecap="butt"/>
<path d="M205.00 159.30 206.00 159.25 207.00 159.38 208.00 159.40 209.00 159.38 210.00 160.40 211.00 159.42 212.00 159.58 213.00 159.58 214.00 159.62 215.00 159.62 216.00 160.72 217.00 160.93 218.00 159.86 219.00 159.78 220.00 159.75 221.00 159.84 222.00 159.85 223.00 159.81 224.00 159.95 225.00 159.35 226.00 160.02 227.00 158.93 228.00 160.02 229.00 159.95 230.00 160.00 231.00 159.98 232.00 158.88 233.00 158.85 234.00 160.02 235.00 160.80 236.00 159.06 237.00 158.64 238.00 158.11 239.00 158.06 240.00 158.90 241.00 159.79 242.00 160.63 243.00 160.66 244.00 161.45 245.00 161.61 246.00 161.51 247.00 160.83 248.00 161.57 249.00 160.92 250.00 161.53 251.00 161.59 252.00 161.53 253.00 162.83 254.00 161.61 255.00 161.66 256.00 161.67 257.00 161.63 258.00 161.61 259.00 162.83 260.00 161.75 261.00 161.66 262.00 161.59 263.00 161.68 264.00 161.66 265.00 161.71 266.00 161.77 267.00 161.69 268.00 161.75 269.00 161.75 270.00 161.68 271.00 161.81 272.00 161.71 273.00 161.69 274.00 161.76 275.00 161.84 276.00 161.76 277.00 161.91 278.00 161.87 279.00 161.82 280.00 161.73 281.00 161.85 282.00 161.80 283.00 161.91 284.00 161.80 285.00 161.95 286.00 162.00 287.00 161.87 288.00 161.94 289.00 161.99 290.00 161.88 291.00 161.85 292.00 160.78 293.00 161.88 294.00 161.98 295.00 161.95 296.00 161.06 297.00 161.96 298.00 161.97 299.00 161.98 300.00 162.03 301.00 162.00 302.00 162.71 303.00 161.91 304.00 162.00 305.00 161.94 306.00 161.93 307.00 161.90 308.00 161.92 309.00 161.96 310.00 160.90 311.00 161.88 312.00 161.88 313.00 161.80 314.00 161.81 315.00 161.84 316.00 161.94 317.00 161.76 318.00 161.79 319.00 160.78 320.00 160.72 321.00 161.75 322.00 161.74 323.00 161.77 324.00 161.82 325.00 161.68 326.00 161.75 327.00 161.67 328.00 161.72 329.00 161.65 330.00 161.69 331.00 161.68 332.00 161.64 333.00 162.58 334.00 161.50 335.00 161.58 336.00 162.86 337.00 161.60 338.00 161.51 339.00 161.48 340.00 160.39 341.00 161.49 342.00 161.54 343.00 161.00 344.00 160.66 345.00 159.37 346.00 159.75 347.00 158.11 348.00 158.76 349.00 158.71 350.00 158.66 351.00 158.57 352.00 157.79 353.00 157.36 354.00 158.56 355.00 158.47 356.00 157.47 357.00 158.24 358.00 158.34 359.00 158.40 360.00 157.64 361.00 158.44 362.00 158.49 362.60 158.61 362.80 158.54 363.00 158.56 363.20 158.63 363.40 158.59 363.60 158.51 363.80 157.52 364.00 153.03 364.20 141.50 364.40 124.63 364.60 110.36 364.80 103.64 365.00 102.64 365.20 103.68 365.37 108.70 365.40 110.35 365.53 118.96 365.60 124.66 365.70 133.40 365.80 141.52 365.87 146.45 366.00 153.15 366.03 154.26 366.20 157.71 366.37 157.37 366.40 157.03 366.53 154.61 366.60 152.95 366.70 150.46 366.80 148.27 366.87 146.92 367.00 145.51 367.03 145.43 367.20 145.20 367.37 145.47 367.40 145.63 367.53 146.99 367.70 150.55 367.87 154.66 368.00 157.10 368.03 157.48 368.20 158.63 368.37 158.71 368.53 158.87 368.70 158.76 368.87 158.81 369.00 159.47 369.03 158.90 370.00 158.86 371.00 158.02 372.00 158.95 373.00 159.83 374.00 159.27 375.00 159.40 376.00 159.48 377.00 159.65 378.00 159.78 379.00 159.99 380.00 160.02 381.00 159.97 382.00 159.93 383.00 160.05 384.00 160.05 385.00 160.00 386.00 159.97 387.00 160.76 388.00 160.05 389.00 159.99 390.00 159.98 391.00 160.08 392.00 159.23 393.00 159.97 394.00 159.96 395.00 159.36 396.00 160.06 397.00 160.02 398.00 159.99 399.00 158.77 400.00 160.02 401.00 160.81 402.00 160.12 403.00 160.14 404.00 160.18 404.30 160.18 404.47 160.14 404.63 160.19 404.80 160.19 404.97 160.23 405.00 160.13 405.13 160.15 405.30 160.05 405.47 159.56 405.63 158.24 405.80 156.27 405.97 154.56 406.00 154.48 406.13 153.91 406.30 153.82 406.47 153.92 406.63 154.70 406.80 156.41 406.97 158.38 407.00 158.72 407.13 159.67 407.30 160.17 407.47 160.35 407.63 160.28 407.80 160.40 407.97 160.28 408.00 160.26 408.13 160.37 409.00 160.31 410.00 160.40 411.00 160.42 412.00 160.51 413.00 159.64 414.00 160.36 415.00 159.13 416.00 160.83 417.00 160.19 418.00 159.94 419.00 159.92 420.00 159.91 421.00 158.80 422.00 159.78 423.00 158.56 424.00 159.61 425.00 159.53 426.00 159.49 427.00 159.38 428.00 159.42 429.00 159.23 430.00 159.30 431.00 158.12 432.00 160.54 433.00 159.12 434.00 159.20 435.00 159.14 436.00 159.15 437.00 159.08 438.00 159.01 439.00 159.11 440.00 158.96 441.00 158.92 442.00 158.92 443.00 158.90 444.00 157.73 445.00 157.64 446.00 158.87 447.00 158.85 447.70 158.89 447.88 158.90 448.00 158.10 448.07 158.97 448.25 158.95 448.43 159.03 448.62 158.97 448.80 157.69 448.98 152.06 449.00 150.92 449.17 136.59 449.20 133.29 449.35 115.35 449.40 109.56 449.53 97.16 449.60 92.52 449.72 88.23 449.80 87.29 449.90 86.94 450.00 87.11 450.08 88.31 450.20 92.57 450.27 97.09 450.40 109.59 450.45 115.35 450.60 133.40 450.63 136.77 450.80 126.93 450.82 123.90 451.00 95.08 451.18 70.14 451.20 68.09 451.37 56.53 451.40 55.57 451.55 53.65 451.57 53.59 451.60 53.60 451.73 54.16 451.80 55.61 451.90 59.96 451.92 61.22 452.00 68.14 452.07 76.08 452.10 80.08 452.20 95.23 452.23 100.08 452.40 126.98 452.57 146.54 452.60 148.81 452.73 144.01 452.80 137.93 452.90 128.50 453.00 120.06 453.07 115.35 453.20 110.16 453.23 109.58 453.40 108.62 453.57 109.61 453.60 110.21 453.73 115.32 453.80 120.05 453.90 128.46 454.00 137.98 454.07 144.10 454.23 154.20 454.40 158.47 454.57 159.27 454.73 159.34 454.90 159.36 455.00 159.40 455.07 159.36 455.23 159.34 456.00 159.52 457.00 159.54 458.00 159.90 459.00 160.26 460.00 160.62 461.00 160.92 462.00 161.27 463.00 161.24 464.00 161.29 465.00 161.44 466.00 162.27 467.00 161.44 468.00 160.49 469.00 161.46 470.00 161.48 471.00 161.47 472.00 161.59 473.00 161.52 474.00 160.76 475.00 161.54 476.00 161.58 477.00 161.55 478.00 160.82 479.00 161.66 480.00 161.71 481.00 161.70 482.00 161.61 483.00 161.66 484.00 161.75 485.00 161.76 486.00 161.85 487.00 161.73 488.00 161.91 489.00 161.85 490.00 160.73 491.00 161.93 492.00 161.92 493.00 161.91 494.00 161.98 495.00 161.28 496.00 161.23 496.40 162.14 496.60 162.17 496.80 162.16 497.00 162.18 497.20 162.23 497.40 162.21 497.60 162.04 497.80 161.20 498.00 158.73 498.20 155.22 498.30 153.53 498.40 152.20 498.47 151.47 498.60 150.84 498.63 150.72 498.80 150.66 498.97 150.75 499.00 150.81 499.13 151.66 499.20 152.27 499.30 153.54 499.40 155.24 499.47 156.62 499.60 158.87 499.63 159.31 499.80 159.36 499.97 157.93 500.00 157.85 500.13 157.53 500.20 157.26 500.30 157.32 500.40 157.32 500.47 157.37 500.60 157.86 500.63 157.94 500.80 159.38 500.97 160.96 501.00 161.28 501.13 162.10 501.20 162.34 501.30 162.57 501.47 162.63 501.63 162.66 501.80 162.64 501.97 162.64 502.00 162.75 502.13 162.75 503.00 162.76 504.00 163.60 505.00 162.99 506.00 161.82 507.00 163.00 508.00 164.01 509.00 162.95 510.00 162.96 511.00 163.01 512.00 163.01 513.00 162.35 514.00 163.06 515.00 161.95 516.00 164.13 517.00 162.95 518.00 161.87 519.00 162.97 520.00 163.01 521.00 163.03 522.00 163.85 523.00 162.99 524.00 162.98 525.00 162.06 526.00 162.97 527.00 163.02 528.00 162.99 529.00 162.90 530.00 162.98 531.00 162.92 532.00 163.04 533.00 163.03 534.00 163.02 535.00 162.99 536.00 163.07 537.00 163.06 538.00 163.06 539.00 161.96 540.00 163.13 541.00 163.04 542.00 162.99 543.00 162.96 544.00 163.02 545.00 163.01 546.00 163.01 547.00 162.99 548.00 161.74 549.00 162.98 550.00 163.00 551.00 163.06 552.00 163.01 553.00 162.04 554.00 162.98 555.00 163.00 556.00 163.98 557.00 162.95 558.00 162.99 559.00 163.05 560.00 162.99 561.00 163.04 562.00 162.98 563.00 162.96 564.00 163.08 565.00 162.36 566.00 162.90 567.00 163.04 568.00 162.98 569.00 163.08 570.00 163.00 571.00 162.26 572.00 162.93 573.00 164.30 574.00 162.34 575.00 163.02 576.00 162.98 577.00 164.01 578.00 163.08 579.00 161.87 580.00 163.03 581.00 162.90 582.00 163.01 583.00 162.95 584.00 162.11 585.00 163.09 586.00 161.94 587.00 163.12 588.00 163.00 589.00 162.97 590.00 162.96 591.00 162.96 592.00 163.07 593.00 162.93 594.00 163.95 595.00 162.94 595.10 163.01 595.35 162.99 595.60 163.02 595.85 163.02 596.00 163.01 596.10 163.09 596.35 162.97 596.60 162.93 596.85 162.72 597.00 162.40 597.10 162.09 597.35 160.98 597.60 159.57 597.85 158.65 598.00 158.46 598.10 158.35 598.35 158.31 598.60 158.43 598.85 158.95 599.00 159.65 599.10 160.14 599.35 161.48 599.60 162.38 599.85 162.81 600.00 163.00 600.10 162.93 600.35 163.03 600.60 163.00 600.85 163.04 601.00 163.75 601.10 163.03 601.35 162.99 602.00 161.73 603.00 162.95 604.00 162.96 605.00 163.03 606.00 162.08 607.00 163.05 608.00 162.94 609.00 163.08 610.00 162.96 611.00 162.94 612.00 162.91 613.00 163.02 614.00 163.04 615.00 163.00 616.00 162.97 617.00 162.99 618.00 163.02 619.00 163.03 620.00 162.30 621.00 162.40 622.00 163.03 623.00 162.95 624.00 163.71 625.00 161.98 626.00 163.10 627.00 162.89 628.00 163.03 629.00 163.03 630.00 163.05 631.00 163.01 632.00 163.04 633.00 163.98 634.00 162.98 635.00 162.99 636.00 162.96 637.00 163.09 638.00 162.99 639.00 162.98 639.40 162.93 639.60 162.91 639.80 162.94 640.00 163.00 640.20 162.99 640.40 163.05 640.60 162.95 640.80 162.73 641.00 162.06 641.20 161.04 641.40 160.26 641.60 159.85 641.80 159.78 642.00 159.81 642.20 160.21 642.40 161.13 642.60 162.07 642.80 162.71 643.00 162.98 643.20 162.96 643.40 163.05 643.60 162.96 643.80 162.98 644.00 162.99 644.20 162.93 645.00 163.06 646.00 162.98 647.00 162.12 648.00 162.36 649.00 163.00 650.00 162.39 651.00 163.05 651.40 163.05 651.60 163.02 651.80 163.13 652.00 163.10 652.20 163.00 652.40 163.01 652.60 163.01 652.80 162.76 653.00 161.97 653.20 161.01 653.40 160.06 653.60 159.72 653.80 159.66 654.00 159.66 654.20 160.11 654.40 160.94 654.60 162.03 654.80 162.69 655.00 162.98 655.20 163.10 655.40 163.01 655.60 163.03 655.80 163.05 656.00 163.06 656.20 163.12 657.00 164.34 658.00 163.08 659.00 162.34 660.00 163.16 661.00 163.09 662.00 162.38 663.00 163.12 664.00 163.14 665.00 163.13 666.00 163.21 667.00 163.09 668.00 163.16 669.00 162.42 670.00 163.18 671.00 162.34 672.00 163.15 673.00 163.08 674.00 163.12 675.00 163.22 676.00 162.40 677.00 163.84 678.00 163.25 679.00 163.18 680.00 163.16 681.00 163.18 682.00 163.14 683.00 163.14 683.50 163.22 683.73 163.22 683.97 163.26 684.00 163.22 684.20 163.19 684.43 163.16 684.67 163.24 684.90 163.19 685.00 162.89 685.13 162.41 685.37 160.81 685.40 160.53 685.60 158.54 685.80 156.88 685.83 156.64 686.00 155.94 686.07 155.71 686.20 155.67 686.30 155.58 686.40 155.65 686.53 155.72 686.60 155.87 686.77 156.68 686.80 156.90 687.00 158.56 687.20 160.54 687.23 160.37 687.40 159.45 687.47 159.11 687.60 158.94 687.70 158.82 687.80 158.84 687.93 158.82 688.00 158.94 688.17 159.25 688.20 159.34 688.40 160.57 688.60 161.76 688.63 161.99 688.80 162.80 688.87 162.94 689.00 163.21 689.20 163.31 689.40 163.21 689.60 163.26 689.80 163.32 690.00 164.38 690.20 163.17 691.00 163.24 692.00 163.31 693.00 163.24 694.00 163.23 695.00 163.35 696.00 162.14 697.00 163.31 698.00 162.35 699.00 163.20 700.00 163.33 701.00 162.40 702.00 163.20 703.00 163.25 704.00 163.36 705.00 163.22 706.00 163.20 707.00 163.22 708.00 163.27 709.00 163.39 710.00 163.30 711.00 163.29 712.00 163.26 713.00 163.22 714.00 163.33 715.00 163.15 716.00 163.20 717.00 163.23 718.00 163.92 719.00 163.28 720.00 163.27 721.00 163.20 722.00 163.18 723.00 164.18 724.00 164.36 725.00 163.16 726.00 163.10 727.00 163.17 728.00 163.30 729.00 163.22 730.00 162.41 731.00 163.18 732.00 162.37 732.30 163.09 732.55 163.27 732.80 163.30 733.00 163.22 733.05 163.20 733.30 163.13 733.55 163.28 733.80 163.14 734.00 162.97 734.05 162.96 734.30 162.53 734.55 161.25 734.80 159.98 735.00 159.31 735.05 159.18 735.30 158.91 735.55 158.81 735.80 158.89 736.00 159.35 736.05 159.43 736.30 160.52 736.55 161.72 736.80 162.63 737.00 161.78 737.05 163.10 737.30 163.16 737.55 163.17 737.80 163.19 738.00 163.18 738.05 163.21 738.30 163.07 738.55 163.16 739.00 163.19 740.00 163.11 741.00 163.19 742.00 163.14 743.00 163.21 744.00 162.34 745.00 163.10 746.00 163.17 747.00 163.13 748.00 162.36 749.00 163.11 750.00 163.16 751.00 163.11 752.00 164.32 753.00 161.98 754.00 162.98 755.00 163.08 756.00 163.84 757.00 161.82 758.00 163.03 759.00 163.06 760.00 163.16 761.00 161.85 762.00 163.99 763.00 163.04 764.00 163.09 765.00 163.00 766.00 163.05 767.00 163.10 768.00 163.03 769.00 162.99 770.00 162.99 771.00 163.05 772.00 162.42 773.00 163.07 774.00 163.03 775.00 163.02 776.00 162.95 777.00 163.04 778.00 163.04 779.00 162.00 780.00 163.15 781.00 163.01 782.00 164.33 783.00 163.17 784.00 163.28 785.00 163.41 786.00 163.42 787.00 163.48 788.00 163.60 789.00 162.67 790.00 163.77 791.00 163.91 792.00 163.78 793.00 163.93 794.00 164.06 795.00 164.21 796.00 164.29 796.30 164.16 796.55 164.22 796.80 164.32 797.00 164.33 797.05 164.31 797.30 164.22 797.55 164.37 797.80 164.33 798.00 164.04 798.05 163.91 798.30 162.92 798.55 160.88 798.70 159.57 798.80 158.66 798.93 157.78 799.00 157.44 799.05 157.10 799.17 156.71 799.30 156.51 799.40 156.52 799.55 156.53 799.63 156.53 799.80 156.70 799.87 156.86 800.00 157.40 800.05 157.80 800.10 158.06 800.30 159.67 800.33 159.97 800.55 161.91 800.57 162.14 800.80 160.42 801.00 158.96 801.03 158.74 801.05 158.62 801.27 157.90 801.30 157.92 801.50 157.91 801.55 157.78 801.73 157.95 801.80 158.10 801.97 158.85 802.00 158.92 802.05 159.33 802.20 160.47 802.30 161.41 802.43 162.47 802.55 163.32 802.67 163.93 802.90 164.41 803.00 164.55 803.13 164.56 803.37 164.49 803.60 164.51 803.83 164.51 804.00 164.50 804.07 164.63 805.00 164.63 806.00 163.35 807.00 164.57 808.00 163.46 809.00 164.57 810.00 164.55 811.00 164.73 812.00 164.79 813.00 163.92 814.00 164.66 815.00 164.67 816.00 164.66 817.00 164.72 818.00 164.79 819.00 164.81 820.00 164.84 821.00 164.80 822.00 164.80 823.00 164.86 824.00 164.68 825.00 165.71 826.00 164.81 827.00 164.86 828.00 164.84 829.00 164.18 830.00 165.84 831.00 164.92 832.00 164.97 833.00 164.82 834.00 164.98 835.00 164.91 836.00 164.91 837.00 164.95 838.00 165.03 839.00 164.94 840.00 164.21 841.00 165.00 842.00 165.00 843.00 165.08 844.00 164.99 845.00 165.10 846.00 165.01 847.00 165.07 848.00 164.99 849.00 164.99 850.00 164.97 851.00 165.14 852.00 164.37 853.00 165.02 854.00 165.03 855.00 165.05 856.00 164.33 857.00 164.32 858.00 163.85 859.00 165.02 860.00 164.96 861.00 165.00 862.00 165.08 863.00 165.07 864.00 164.30 865.00 164.98 866.00 165.05 867.00 165.10 868.00 165.11 869.00 165.02 870.00 165.03 871.00 165.06 872.00 164.00 873.00 165.02 874.00 165.04 875.00 165.10 876.00 165.13 877.00 164.16 878.00 165.06 879.00 165.11 880.00 165.06 881.00 165.13 882.00 165.12 883.00 165.05 884.00 165.07 885.00 165.05 886.00 165.13 887.00 165.15 888.00 165.06 889.00 166.36 890.00 163.98 891.00 163.95 892.00 165.11 893.00 164.96 894.00 165.21 895.00 165.09 896.00 165.08 897.00 165.12 898.00 165.13 899.00 165.10 900.00 165.10 901.00 165.13 902.00 165.04 903.00 165.17 904.00 164.42 905.00 165.10 906.00 165.14 907.00 165.15 908.00 165.10 909.00 165.14 910.00 165.13 911.00 165.08 912.00 165.10 913.00 165.15 914.00 165.15 915.00 165.12 916.00 165.09 917.00 165.23 918.00 164.11 919.00 165.06 920.00 165.12 921.00 165.16 922.00 165.25 923.00 164.00 924.00 165.21 925.00 165.13 926.00 165.14 927.00 165.22 928.00 165.04 929.00 165.14 930.00 165.15 931.00 165.11 932.00 165.11 933.00 165.24 934.00 165.17 935.00 165.21 936.00 163.97 937.00 165.19 938.00 165.29 939.00 165.17 940.00 164.44 941.00 164.49 942.00 165.25 942.30 165.27 942.55 165.18 942.80 165.14 943.00 165.28 943.05 165.20 943.30 165.12 943.55 165.22 943.80 165.18 944.00 164.15 944.05 164.88 944.30 163.94 944.55 162.26 944.60 161.98 944.80 160.36 945.00 159.27 945.05 159.15 945.20 158.65 945.30 158.56 945.40 158.45 945.55 158.56 945.60 158.58 945.80 158.67 946.00 159.18 946.05 159.50 946.20 160.37 946.30 161.22 946.40 162.00 946.55 162.04 946.60 161.87 946.80 161.43 947.00 161.27 947.05 161.18 947.20 161.37 947.30 161.58 947.40 161.79 947.55 162.56 947.60 162.77 947.80 164.02 948.00 164.87 948.05 165.01 948.20 165.15 948.30 165.13 948.40 165.20 948.55 165.10 948.60 165.22 948.80 165.20 949.00 166.15 949.20 165.13 949.40 165.22 950.00 165.30 951.00 165.24 952.00 165.22 953.00 165.18 954.00 164.16 955.00 165.27 956.00 165.22 957.00 165.22 958.00 165.24 959.00 165.24 960.00 165.16 961.00 165.20 962.00 165.19 963.00 165.26 964.00 165.29 965.00 165.32 966.00 165.23 967.00 165.21 968.00 165.23 969.00 165.24 970.00 165.25 971.00 165.21 972.00 164.27 973.00 165.25 974.00 165.28 975.00 165.28 976.00 164.65 977.00 164.04 978.00 164.37 979.00 166.25 980.00 165.31 981.00 165.29 982.00 165.25 983.00 165.27 984.00 165.30 985.00 165.24 986.00 165.34 987.00 165.30 988.00 165.34 989.00 165.18 990.00 165.20 991.00 165.31 992.00 166.36 993.00 165.24 994.00 165.28 995.00 165.30 996.00 165.25 997.00 165.30 998.00 165.25 999.00 165.30 1000.00 165.29 1001.00 165.26 1002.00 165.29 1003.00 165.29 1004.00 165.34 1005.00 165.32 1006.00 165.36 1007.00 165.23 1008.00 165.33 1009.00 166.48 1010.00 165.35 1011.00 166.57 1012.00 165.27 1013.00 164.33 1014.00 165.29 1015.00 165.36 1016.00 165.25 1017.00 165.39 1018.00 164.30 1019.00 165.36 1020.00 165.34 1021.00 165.27 1022.00 165.33 1023.00 165.32 1024.00 165.32 1025.00 165.35 1026.00 165.35 1027.00 165.26 1028.00 165.33 1029.00 165.37 1030.00 165.38 1031.00 165.37 1032.00 164.46 1033.00 165.38 1034.00 165.31 1035.00 164.51 1036.00 165.35 1037.00 165.39 1038.00 165.45 1039.00 165.37 1040.00 165.33 1041.00 165.41 1042.00 165.36 1043.00 165.41 1044.00 165.39 1045.00 165.43 1046.00 165.46 1047.00 165.37 1048.00 165.44 1049.00 165.45 1050.00 165.42 1051.00 164.29 1052.00 165.43 1053.00 165.45 1054.00 165.42 1055.00 165.45 1056.00 165.42 1057.00 165.28 1058.00 164.73 1058.60 165.39 1058.80 165.38 1059.00 165.52 1059.20 165.46 1059.40 165.45 1059.60 165.41 1059.80 165.40 1060.00 165.04 1060.20 164.12 1060.40 162.91 1060.60 161.82 1060.80 161.37 1061.00 161.32 1061.20 161.42 1061.40 161.88 1061.60 162.90 1061.80 164.18 1062.00 165.08 1062.20 165.31 1062.40 165.46 1062.60 165.45 1062.80 165.52 1063.00 165.48 1063.20 165.55 1063.40 165.50 1064.00 165.44 1064.80 165.47 1065.00 165.44 1065.05 165.41 1065.30 165.46 1065.55 165.33 1065.80 165.48 1066.00 166.58 1066.05 165.49 1066.30 165.41 1066.55 165.22 1066.80 164.83 1067.00 164.27 1067.05 164.06 1067.30 163.15 1067.55 162.53 1067.80 162.32 1068.00 162.30 1068.05 162.32 1068.30 162.39 1068.55 162.80 1068.80 163.55 1069.00 164.31 1069.05 164.48 1069.30 165.04 1069.55 165.43 1069.80 165.46 1070.00 165.48 1070.05 165.38 1070.30 165.42 1070.55 165.43 1070.80 165.51 1071.00 165.57 1071.05 165.48 1072.00 165.39 1073.00 165.43 1074.00 165.49 1075.00 165.43 1076.00 165.40 1077.00 164.74 1078.00 165.49 1079.00 165.37 1080.00 165.44 1081.00 165.51 1082.00 165.42 1083.00 164.47 1084.00 165.42 1085.00 165.48 1086.00 165.46 1087.00 165.50 1088.00 165.43 1089.00 165.48 1090.00 165.51 1091.00 165.49 1092.00 165.55 1093.00 165.51 1094.00 165.45 1095.00 165.57 1096.00 166.16 1097.00 165.60 1098.00 164.79 1099.00 165.49 1100.00 166.10 1101.00 165.47 1102.00 165.50 1103.00 165.52 1104.00 165.53 1105.00 165.55 1106.00 165.48 1107.00 165.50 1108.00 164.26 1109.00 165.46 1110.00 165.52 1111.00 165.50 1112.00 165.46 1113.00 165.53 1114.00 165.56 1115.00 165.54 1116.00 165.48 1117.00 164.27 1118.00 165.57 1119.00 165.56 1120.00 165.56 1121.00 165.55 1122.00 165.56 1123.00 165.54 1124.00 165.61 1125.00 165.58 1126.00 165.50 1127.00 165.45 1128.00 164.42 1129.00 165.48 1130.00 165.52 1131.00 165.55 1132.00 165.48 1133.00 165.51 1134.00 165.53 1135.00 164.70 1136.00 165.48 1137.00 165.46 1138.00 165.58 1139.00 165.53 1140.00 165.60 1141.00 165.53 1142.00 165.52 1143.00 165.61 1144.00 164.86 1145.00 165.47 1146.00 165.59 1147.00 164.70 1148.00 165.54 1149.00 165.55 1150.00 164.76 1151.00 165.53 1152.00 165.51 1153.00 165.48 1154.00 165.51 1155.00 165.55 1156.00 164.89 1157.00 166.77 1158.00 165.65 1159.00 165.49 1160.00 165.57 1161.00 165.59 1162.00 165.56 1163.00 165.57 1164.00 165.57 1165.00 165.66 1166.00 165.59 1167.00 165.59 1168.00 165.55 1169.00 165.56 1170.00 166.61 1171.00 165.54 1172.00 165.65 1173.00 165.59 1174.00 165.54 1175.00 165.56 1176.00 165.63 1177.00 165.61 1178.00 165.61 1179.00 165.69 1180.00 165.58 1181.00 165.57 1182.00 165.58 1183.00 164.43 1184.00 165.64 1185.00 165.49 1186.00 165.61 1187.00 165.53 1188.00 166.86 1189.00 165.61 1190.00 165.61 1191.00 165.63 1192.00 164.71 1193.00 165.56 1194.00 165.48 1195.00 165.54 1196.00 165.55 1197.00 164.77 1198.00 165.64 1199.00 165.58 1200.00 164.37 1201.00 165.56 1202.00 165.66 1203.00 164.99 1204.00 165.65 1205.00 165.69 1206.00 165.57 1207.00 165.74 1208.00 165.58 1209.00 165.68 1210.00 165.39 1211.00 165.68 1212.00 165.51 1213.00 166.90 1214.00 165.46 1215.00 165.73 1216.00 165.32 1217.00 165.79 1218.00 165.35 1219.00 165.12 1220.00 165.28 1221.00 165.92 1222.00 165.38 1223.00 165.82 1224.00 165.26 1225.00 166.67 1226.00 165.32 1227.00 165.92 1228.00 165.33 1229.00 165.99 1230.00 165.30 1231.00 166.04 1232.00 165.25 1233.00 166.01 1234.00 165.16 1235.00 166.13 1236.00 165.27 1237.00 165.29 1238.00 165.05 1239.00 166.07 1239.60 165.58 1239.80 165.61 1240.00 165.21 1240.20 165.69 1240.40 165.65 1240.60 165.63 1240.80 165.53 1241.00 165.59 1241.20 163.77 1241.40 162.08 1241.60 160.60 1241.80 159.92 1242.00 159.81 1242.20 159.92 1242.40 160.61 1242.60 162.05 1242.80 163.89 1243.00 165.56 1243.20 165.55 1243.40 165.62 1243.60 165.59 1243.80 165.62 1244.00 165.27 1244.20 165.63 1244.40 165.64 1245.00 166.12 1246.00 165.18 1247.00 166.18 1248.00 165.19 1249.00 166.15 1250.00 165.13 1251.00 165.53 1252.00 164.41 1253.00 166.90 1254.00 165.19 1255.00 166.11 1256.00 165.12 1257.00 166.25 1258.00 165.12 1259.00 166.13 1260.00 165.22 1261.00 166.14 1262.00 165.37 1263.00 166.16 1264.00 165.10 1265.00 167.38 1266.00 165.20 1267.00 166.12 1268.00 165.23 1269.00 166.15 1270.00 165.16 1271.00 166.13 1272.00 165.18 1273.00 166.08 1274.00 165.24 1275.00 166.15 1276.00 165.24 1277.00 166.12 1278.00 165.19 1279.00 164.96 1280.00 165.19 1281.00 166.24 1282.00 165.13 1283.00 166.21 1284.00 165.30 1285.00 166.16 1286.00 165.18 1287.00 166.17 1288.00 164.04 1289.00 166.16 1290.00 165.18 1291.00 166.17 1292.00 165.19 1293.00 166.19 1294.00 165.15 1295.00 166.21 1296.00 164.15 1297.00 165.34 1298.00 165.18 1299.00 166.22 1300.00 165.07 1301.00 166.22 1302.00 165.23 1303.00 166.21 1304.00 165.22 1305.00 166.23 1306.00 165.15 1307.00 166.22 1308.00 165.21 1309.00 166.81 1310.00 165.16 1311.00 165.30 1312.00 165.18 1313.00 166.33 1314.00 165.10 1315.00 166.19 1316.00 165.24 1317.00 165.35 1318.00 165.24 1319.00 165.39 1320.00 165.30 1321.00 166.17 1322.00 165.21 1323.00 166.29 1324.00 165.19 1325.00 166.22 1326.00 165.24 1327.00 165.32 1328.00 165.20 1329.00 166.19 1330.00 165.23 1331.00 166.33 1332.00 164.54 1333.00 166.40 1334.00 165.21 1335.00 166.24 1336.00 165.25 1337.00 165.28 1338.00 165.27 1339.00 166.32 1340.00 165.16 1341.00 165.52 1342.00 164.21 1343.00 166.95 1344.00 165.30 1345.00 166.18 1346.00 166.23 1347.00 166.29 1348.00 165.24 1349.00 166.27 1350.00 165.25 1351.00 166.27 1352.00 165.27 1353.00 166.22 1354.00 165.14 1355.00 166.38 1356.00 165.26 1357.00 166.24 1358.00 165.26 1359.00 166.20 1360.00 165.28 1361.00 166.23 1362.00 165.17 1363.00 166.39 1364.00 166.57 1365.00 166.24 1366.00 165.28 1367.00 166.23 1368.00 165.29 1369.00 166.29 1370.00 165.18 1371.00 166.25 1372.00 165.33 1373.00 165.32 1374.00 164.49 1375.00 165.08 1376.00 165.38 1377.00 166.35 1378.00 165.36 1379.00 166.31 1380.00 166.38 1381.00 166.24 1382.00 165.24 1383.00 166.32 1384.00 165.27 1385.00 166.32 1386.00 164.28 1387.00 166.31 1388.00 165.30 1389.00 166.20 1390.00 165.19 1391.00 166.33 1392.00 166.17 1393.00 166.29 1394.00 165.33" fill="none" stroke="#A974D8" stroke-width="2.85" stroke-linejoin="round" stroke-linecap="butt"/>
<text x="1293.7" y="148.0" font-size="46">KR5</text>
<text x="1287.7" y="434.9" font-size="46">KR4</text>
<text x="1287.8" y="501.8" font-size="46">KR3</text>
<text x="1295.3" y="559.7" font-size="46">KR2</text>
<text x="1287.73" y="834.1" font-size="46">KR</text>
<use href="#one" transform="translate(1351.63,834.10) scale(0.02246,-0.02159)"/>
</svg></body></html>
